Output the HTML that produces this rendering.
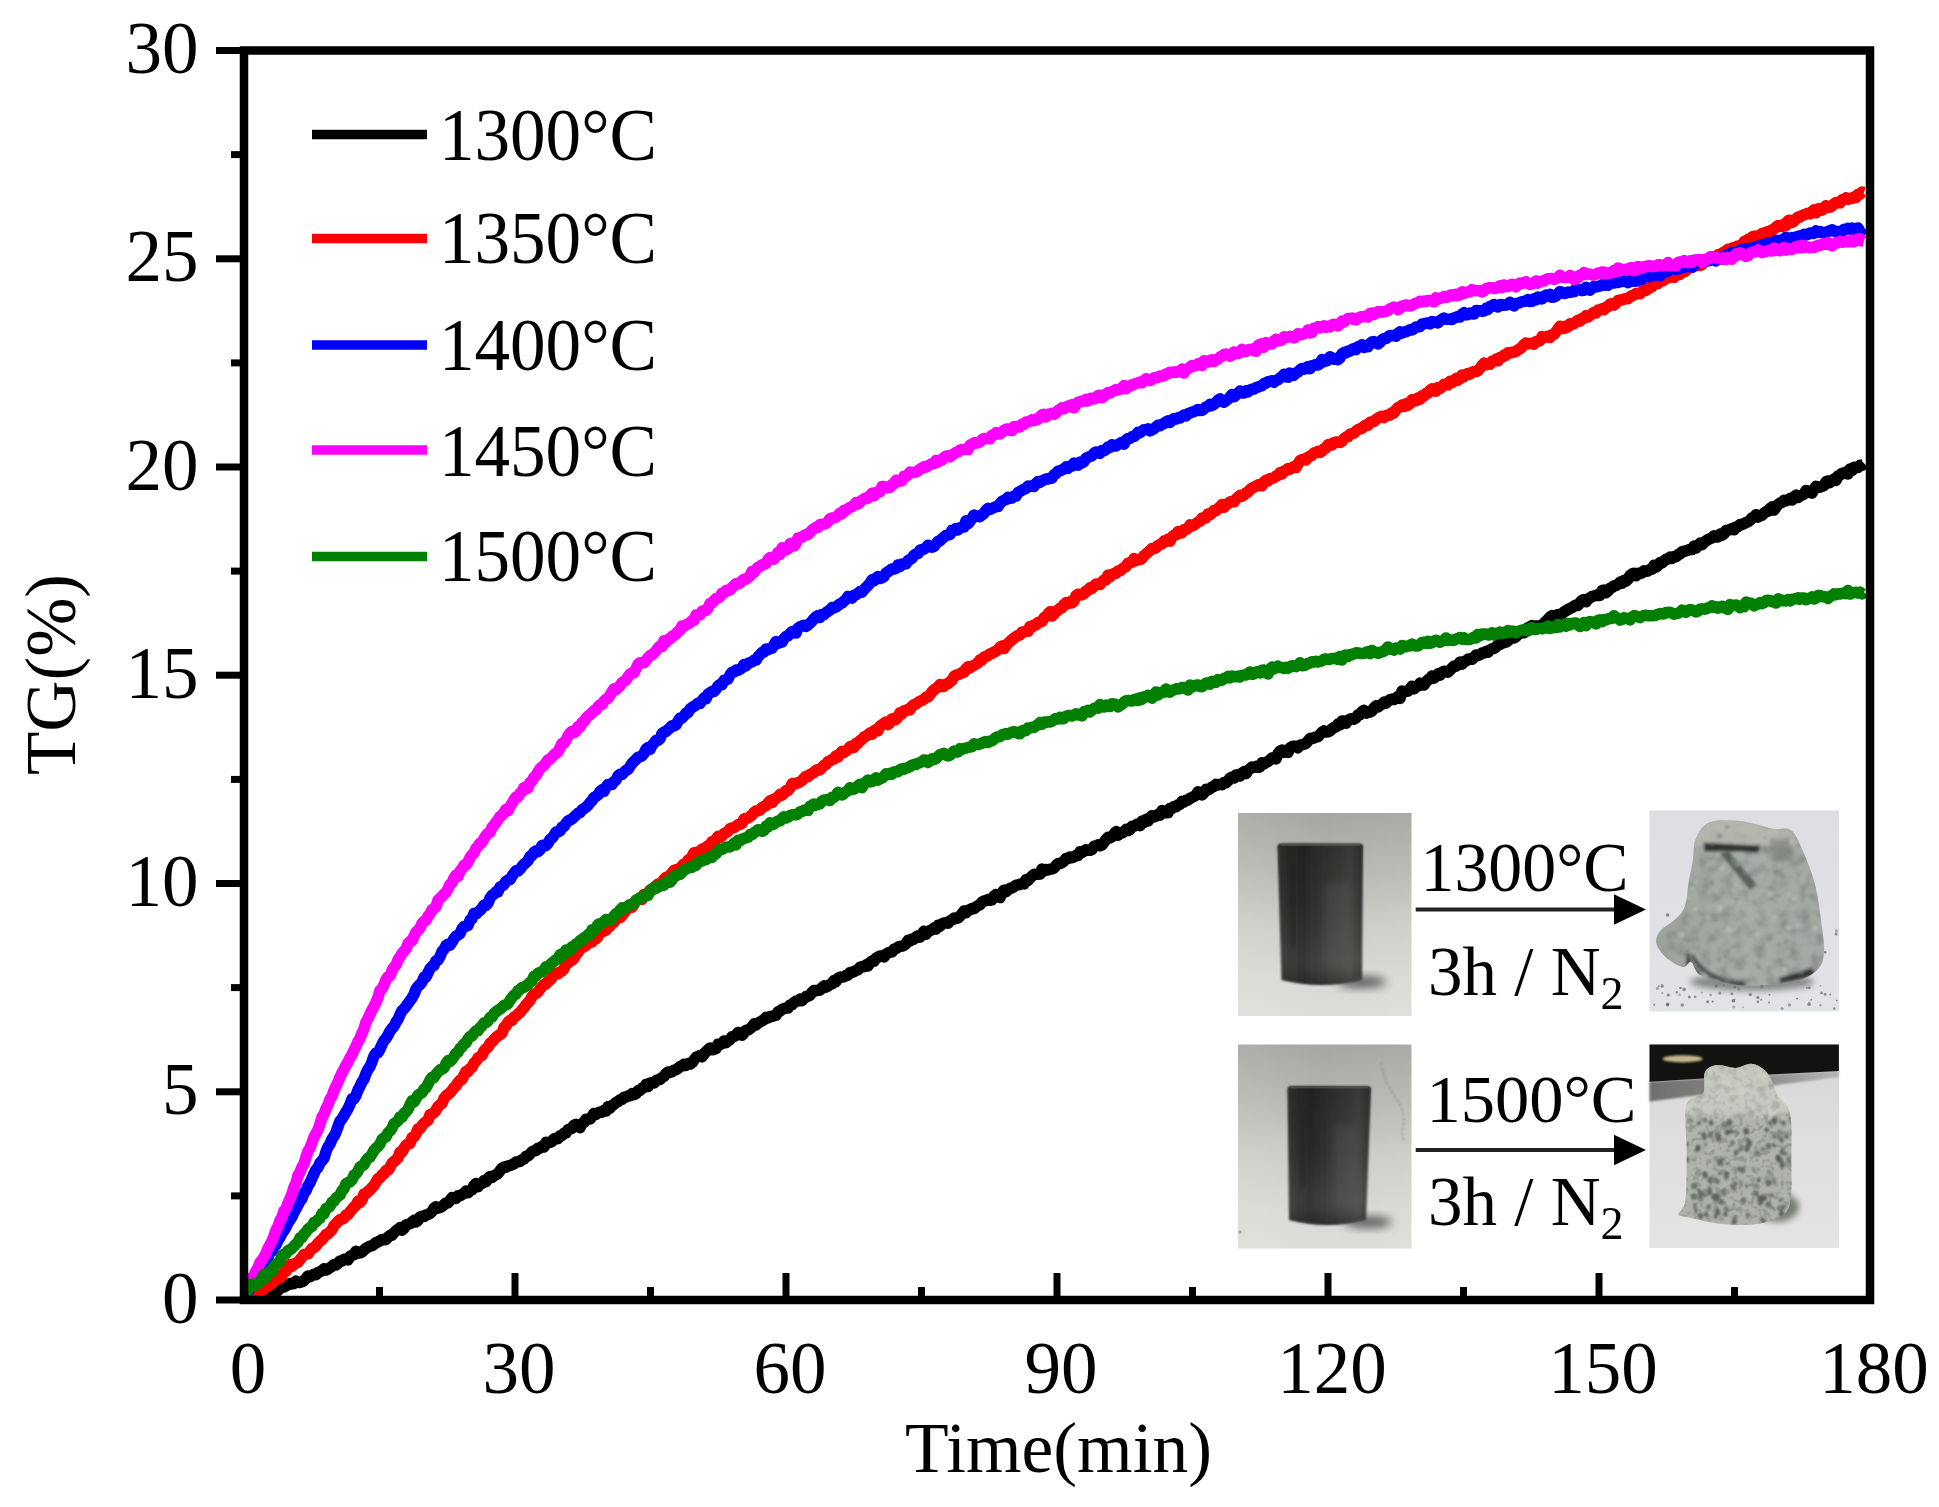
<!DOCTYPE html><html><head><meta charset="utf-8"><title>TG curves</title><style>html,body{margin:0;padding:0;background:#fff;}svg{display:block;}</style></head><body><svg width="1939" height="1507" viewBox="0 0 1939 1507">
<rect width="100%" height="100%" fill="#fff"/>
<defs>
<linearGradient id="bg1" x1="0" y1="0" x2="0" y2="1">
<stop offset="0" stop-color="#a6a5a1"/><stop offset="0.3" stop-color="#b9b8b4"/><stop offset="0.55" stop-color="#cdccc8"/><stop offset="0.8" stop-color="#d9d8d4"/><stop offset="1" stop-color="#dedcd8"/>
</linearGradient>
<linearGradient id="bg1h" x1="0" y1="0" x2="1" y2="0">
<stop offset="0" stop-color="#fff" stop-opacity="0.10"/><stop offset="0.5" stop-color="#fff" stop-opacity="0"/><stop offset="1" stop-color="#fff" stop-opacity="0.06"/>
</linearGradient>
<linearGradient id="cyl" x1="0" y1="0" x2="1" y2="0">
<stop offset="0" stop-color="#3b3b39"/><stop offset="0.12" stop-color="#2f2f2d"/><stop offset="0.3" stop-color="#2b2b29"/><stop offset="0.6" stop-color="#3a3b38"/><stop offset="0.85" stop-color="#474845"/><stop offset="1" stop-color="#363735"/>
</linearGradient>
<linearGradient id="cylv" x1="0" y1="0" x2="0" y2="1">
<stop offset="0" stop-color="#000" stop-opacity="0.22"/><stop offset="0.45" stop-color="#000" stop-opacity="0.05"/><stop offset="0.8" stop-color="#fff" stop-opacity="0.06"/><stop offset="1" stop-color="#000" stop-opacity="0.15"/>
</linearGradient>
<linearGradient id="bg3" x1="0" y1="0" x2="0" y2="1">
<stop offset="0" stop-color="#dcdee2"/><stop offset="1" stop-color="#e1e3e7"/>
</linearGradient>
<linearGradient id="bg4" x1="0" y1="0" x2="0" y2="1">
<stop offset="0" stop-color="#d8d6d6"/><stop offset="0.5" stop-color="#dfdddd"/><stop offset="1" stop-color="#e5e3e3"/>
</linearGradient>
<linearGradient id="band4" x1="0" y1="0" x2="1" y2="0">
<stop offset="0" stop-color="#6f6f6d"/><stop offset="0.6" stop-color="#8c8c8a"/><stop offset="1" stop-color="#b5b5b3"/>
</linearGradient>
<linearGradient id="m4" x1="0" y1="0" x2="0" y2="1">
<stop offset="0" stop-color="#c3c6bc"/><stop offset="0.3" stop-color="#c1c4bb"/><stop offset="0.36" stop-color="#b0b4ad"/><stop offset="1" stop-color="#aeb2ab"/>
</linearGradient>
<linearGradient id="m3" x1="0" y1="0" x2="1" y2="0">
<stop offset="0" stop-color="#9da39b"/><stop offset="0.5" stop-color="#a8ada7"/><stop offset="1" stop-color="#a3a8a3"/>
</linearGradient>
<filter id="mott3" x="0" y="0" width="1" height="1">
<feTurbulence type="fractalNoise" baseFrequency="0.09" numOctaves="3" seed="5" result="t"/>
<feColorMatrix in="t" type="matrix" values="0 0 0 0 0.25  0 0 0 0 0.27  0 0 0 0 0.26  -2.6 0 0 0 1.5" result="dk0"/>
<feGaussianBlur in="dk0" stdDeviation="0.9" result="dk"/>
<feComposite in="dk" in2="SourceGraphic" operator="in" result="d2"/>
<feComposite in="d2" in2="SourceGraphic" operator="over"/>
</filter>
<filter id="mott4" x="0" y="0" width="1" height="1">
<feTurbulence type="fractalNoise" baseFrequency="0.16" numOctaves="2" seed="11" result="t"/>
<feColorMatrix in="t" type="matrix" values="0 0 0 0 0.3  0 0 0 0 0.32  0 0 0 0 0.29  -5 0 0 0 2.6" result="dk0"/>
<feGaussianBlur in="dk0" stdDeviation="0.7" result="dk"/>
<feComposite in="dk" in2="SourceGraphic" operator="in" result="d2"/>
<feComposite in="d2" in2="SourceGraphic" operator="over"/>
</filter>
<filter id="b1" x="-20%" y="-20%" width="140%" height="140%"><feGaussianBlur stdDeviation="1"/></filter>
<filter id="b2" x="-20%" y="-20%" width="140%" height="140%"><feGaussianBlur stdDeviation="2"/></filter>
<filter id="b3" x="-30%" y="-30%" width="160%" height="160%"><feGaussianBlur stdDeviation="3"/></filter>
<filter id="b5" x="-50%" y="-50%" width="200%" height="200%"><feGaussianBlur stdDeviation="5"/></filter>
</defs>
<rect x="1238" y="813" width="173.5" height="203" fill="url(#bg1)"/>
<rect x="1238" y="813" width="173.5" height="203" fill="url(#bg1h)"/>
<ellipse cx="1362" cy="982" rx="24" ry="6" fill="#4a4a48" opacity="0.85" filter="url(#b5)"/>
<path d="M1277.5,846.5 Q1277.5,843.5 1281.5,843.5 L1359,843.5 Q1363,843.5 1363,846.5 L1362,980 Q1321.75,990 1281.5,980 Z" fill="url(#cyl)" filter="url(#b1)"/>
<path d="M1277.5,846.5 Q1277.5,843.5 1281.5,843.5 L1359,843.5 Q1363,843.5 1363,846.5 L1362,980 Q1321.75,990 1281.5,980 Z" fill="url(#cylv)"/>
<line x1="1280.5" y1="845.0" x2="1360" y2="845.0" stroke="#5a5650" stroke-width="2" opacity="0.7"/>
<rect x="1291.18" y="868.5" width="4" height="77.825" fill="#1e1e1d" opacity="0.5" filter="url(#b2)"/>
<rect x="1324.525" y="883.5" width="25.65" height="84.89999999999999" fill="#5a5c58" opacity="0.35" filter="url(#b5)"/>
<rect x="1238" y="1044.5" width="173.5" height="204" fill="url(#bg1)"/>
<rect x="1238" y="1044.5" width="173.5" height="204" fill="url(#bg1h)"/>
<ellipse cx="1368" cy="1222" rx="24" ry="6" fill="#4a4a48" opacity="0.85" filter="url(#b5)"/>
<path d="M1287.5,1089 Q1287.5,1086 1291.5,1086 L1367,1086 Q1371,1086 1371,1089 L1366,1220 Q1327.5,1230 1289,1220 Z" fill="url(#cyl)" filter="url(#b1)"/>
<path d="M1287.5,1089 Q1287.5,1086 1291.5,1086 L1367,1086 Q1371,1086 1371,1089 L1366,1220 Q1327.5,1230 1289,1220 Z" fill="url(#cylv)"/>
<line x1="1290.5" y1="1087.5" x2="1368" y2="1087.5" stroke="#5a5650" stroke-width="2" opacity="0.7"/>
<rect x="1300.86" y="1111" width="4" height="76.45" fill="#1e1e1d" opacity="0.5" filter="url(#b2)"/>
<rect x="1333.425" y="1126" width="25.05" height="83.39999999999999" fill="#5a5c58" opacity="0.35" filter="url(#b5)"/>
<path d="M1381,1063 L1383,1072 L1386,1081 L1391,1090 L1396,1098 L1400,1104 L1403,1112 L1404,1122 L1402,1132 L1404,1142" fill="none" stroke="#6a6a68" stroke-width="1.3" stroke-dasharray="3 2" opacity="0.55" filter="url(#b1)"/>
<circle cx="1240" cy="1232" r="1.5" fill="#666" opacity="0.5"/>
<rect x="1649.5" y="810.5" width="189.5" height="201" fill="url(#bg3)"/>
<clipPath id="cl3"><path d="M1695.8,839.2 C1698.6,832.9 1702.1,825.6 1709.4,822.6 C1716.7,819.6 1729.0,820.1 1739.6,821.1 C1750.2,822.1 1764.2,827.2 1772.8,828.7 C1781.3,830.2 1785.9,826.4 1790.9,830.2 C1795.9,834.0 1799.0,842.2 1803.0,851.3 C1807.0,860.3 1812.0,872.9 1815.0,884.5 C1818.0,896.1 1819.5,909.6 1821.0,920.7 C1822.5,931.8 1824.5,942.9 1824.0,950.9 C1823.5,958.9 1822.5,964.0 1818.0,969.0 C1813.5,974.0 1806.5,978.2 1797.0,981.0 C1787.5,983.8 1771.8,985.1 1760.7,985.6 C1749.6,986.1 1740.6,985.8 1730.5,984.0 C1720.4,982.2 1706.8,978.7 1700.3,975.0 C1693.8,971.3 1694.0,963.3 1691.3,962.0 C1688.6,960.7 1687.2,967.0 1684.0,967.0 C1680.8,967.0 1675.8,964.5 1672.0,962.0 C1668.2,959.5 1663.7,955.5 1661.0,952.0 C1658.3,948.5 1656.0,944.7 1656.0,941.0 C1656.0,937.3 1658.3,933.2 1661.0,930.0 C1663.7,926.8 1668.5,925.0 1672.0,922.0 C1675.5,919.0 1679.6,915.7 1682.0,912.0 C1684.4,908.3 1685.5,904.6 1686.5,900.0 C1687.5,895.4 1687.2,891.1 1688.3,884.5 C1689.3,877.9 1691.5,867.9 1692.8,860.4 C1694.0,852.9 1693.0,845.5 1695.8,839.2 Z"/></clipPath>
<ellipse cx="1752" cy="982" rx="62" ry="9" fill="#3c403e" opacity="0.55" filter="url(#b3)"/>
<path d="M1695.8,839.2 C1698.6,832.9 1702.1,825.6 1709.4,822.6 C1716.7,819.6 1729.0,820.1 1739.6,821.1 C1750.2,822.1 1764.2,827.2 1772.8,828.7 C1781.3,830.2 1785.9,826.4 1790.9,830.2 C1795.9,834.0 1799.0,842.2 1803.0,851.3 C1807.0,860.3 1812.0,872.9 1815.0,884.5 C1818.0,896.1 1819.5,909.6 1821.0,920.7 C1822.5,931.8 1824.5,942.9 1824.0,950.9 C1823.5,958.9 1822.5,964.0 1818.0,969.0 C1813.5,974.0 1806.5,978.2 1797.0,981.0 C1787.5,983.8 1771.8,985.1 1760.7,985.6 C1749.6,986.1 1740.6,985.8 1730.5,984.0 C1720.4,982.2 1706.8,978.7 1700.3,975.0 C1693.8,971.3 1694.0,963.3 1691.3,962.0 C1688.6,960.7 1687.2,967.0 1684.0,967.0 C1680.8,967.0 1675.8,964.5 1672.0,962.0 C1668.2,959.5 1663.7,955.5 1661.0,952.0 C1658.3,948.5 1656.0,944.7 1656.0,941.0 C1656.0,937.3 1658.3,933.2 1661.0,930.0 C1663.7,926.8 1668.5,925.0 1672.0,922.0 C1675.5,919.0 1679.6,915.7 1682.0,912.0 C1684.4,908.3 1685.5,904.6 1686.5,900.0 C1687.5,895.4 1687.2,891.1 1688.3,884.5 C1689.3,877.9 1691.5,867.9 1692.8,860.4 C1694.0,852.9 1693.0,845.5 1695.8,839.2 Z" fill="url(#m3)" filter="url(#mott3)"/>
<g clip-path="url(#cl3)"><g filter="url(#b1)">
<path d="M1693,840 Q1700,818 1730,818 Q1770,826 1798,834 L1796,846 Q1760,846 1730,842 Q1710,843 1693,846 Z" fill="#b9bdb1" opacity="0.7" filter="url(#b1)"/>
<path d="M1703,843 Q1730,845 1760,846 L1758,852 Q1730,850 1705,851 Z" fill="#1e201f" opacity="0.9" filter="url(#b1)"/>
<path d="M1720,853 L1728,851 L1756,884 L1750,890 Z" fill="#4a4f4c" opacity="0.8" filter="url(#b1)"/>
<path d="M1770,840 L1790,838 L1794,860 L1772,862 Z" fill="#6a706b" opacity="0.5" filter="url(#b2)"/>
<path d="M1688,950 Q1692,978 1720,985 Q1700,986 1690,975 Q1684,962 1688,950 Z" fill="#222" opacity="0.8" filter="url(#b1)"/>
<path d="M1690,955 Q1700,982 1745,987 L1745,982 Q1705,978 1694,955 Z" fill="#2a2c2b" opacity="0.7" filter="url(#b1)"/>
<path d="M1780,978 Q1800,972 1812,968 L1815,975 Q1800,980 1780,983 Z" fill="#1e1f1e" opacity="0.8" filter="url(#b1)"/>
<circle cx="1788.9" cy="893.7" r="2.6" fill="#bfc3bb" opacity="0.45"/>
<circle cx="1671.3" cy="983.9" r="2.7" fill="#c8ccc4" opacity="0.45"/>
<circle cx="1791.0" cy="841.5" r="1.9" fill="#c8ccc4" opacity="0.45"/>
<circle cx="1815.3" cy="928.2" r="2.8" fill="#bfc3bb" opacity="0.45"/>
<circle cx="1731.7" cy="858.2" r="1.3" fill="#7d837e" opacity="0.45"/>
<circle cx="1798.2" cy="926.1" r="2.7" fill="#bfc3bb" opacity="0.45"/>
<circle cx="1716.3" cy="983.1" r="2.8" fill="#bfc3bb" opacity="0.45"/>
<circle cx="1688.7" cy="898.4" r="1.3" fill="#c8ccc4" opacity="0.45"/>
<circle cx="1681.7" cy="934.8" r="3.1" fill="#c8ccc4" opacity="0.45"/>
<circle cx="1711.4" cy="882.2" r="2.1" fill="#6c726d" opacity="0.45"/>
<circle cx="1687.8" cy="841.8" r="1.7" fill="#6c726d" opacity="0.45"/>
<circle cx="1770.9" cy="893.4" r="2.9" fill="#bfc3bb" opacity="0.45"/>
<circle cx="1776.1" cy="872.5" r="2.8" fill="#6c726d" opacity="0.45"/>
<circle cx="1722.0" cy="868.4" r="2.6" fill="#c8ccc4" opacity="0.45"/>
<circle cx="1679.2" cy="853.6" r="2.8" fill="#c8ccc4" opacity="0.45"/>
<circle cx="1770.0" cy="938.5" r="2.8" fill="#7d837e" opacity="0.45"/>
<circle cx="1734.4" cy="915.5" r="1.4" fill="#7d837e" opacity="0.45"/>
<circle cx="1770.6" cy="899.1" r="2.3" fill="#7d837e" opacity="0.45"/>
<circle cx="1787.3" cy="926.6" r="2.3" fill="#bfc3bb" opacity="0.45"/>
<circle cx="1707.6" cy="825.2" r="2.1" fill="#bfc3bb" opacity="0.45"/>
<circle cx="1692.1" cy="888.6" r="1.7" fill="#c8ccc4" opacity="0.45"/>
<circle cx="1665.1" cy="867.3" r="1.8" fill="#c8ccc4" opacity="0.45"/>
<circle cx="1769.5" cy="913.6" r="2.5" fill="#bfc3bb" opacity="0.45"/>
<circle cx="1725.3" cy="956.8" r="1.5" fill="#6c726d" opacity="0.45"/>
<circle cx="1658.9" cy="835.1" r="2.1" fill="#6c726d" opacity="0.45"/>
<circle cx="1682.9" cy="904.2" r="1.5" fill="#6c726d" opacity="0.45"/>
<circle cx="1775.5" cy="895.0" r="1.8" fill="#7d837e" opacity="0.45"/>
<circle cx="1764.0" cy="880.8" r="1.4" fill="#8a908a" opacity="0.45"/>
<circle cx="1675.4" cy="981.6" r="2.6" fill="#8a908a" opacity="0.45"/>
<circle cx="1701.0" cy="982.8" r="2.8" fill="#c8ccc4" opacity="0.45"/>
<circle cx="1779.0" cy="895.5" r="1.4" fill="#6c726d" opacity="0.45"/>
<circle cx="1811.2" cy="896.6" r="1.6" fill="#8a908a" opacity="0.45"/>
<circle cx="1707.9" cy="917.3" r="2.9" fill="#bfc3bb" opacity="0.45"/>
<circle cx="1786.2" cy="940.9" r="2.1" fill="#7d837e" opacity="0.45"/>
<circle cx="1763.5" cy="918.1" r="1.4" fill="#7d837e" opacity="0.45"/>
<circle cx="1726.9" cy="827.0" r="2.2" fill="#6c726d" opacity="0.45"/>
<circle cx="1712.1" cy="844.3" r="2.4" fill="#6c726d" opacity="0.45"/>
<circle cx="1684.5" cy="975.4" r="2.4" fill="#7d837e" opacity="0.45"/>
<circle cx="1715.0" cy="919.3" r="3.1" fill="#8a908a" opacity="0.45"/>
<circle cx="1738.4" cy="951.5" r="1.4" fill="#7d837e" opacity="0.45"/>
<circle cx="1739.2" cy="902.4" r="2.3" fill="#bfc3bb" opacity="0.45"/>
<circle cx="1736.9" cy="864.9" r="1.9" fill="#c8ccc4" opacity="0.45"/>
<circle cx="1745.1" cy="893.7" r="2.9" fill="#8a908a" opacity="0.45"/>
<circle cx="1810.0" cy="843.6" r="2.3" fill="#7d837e" opacity="0.45"/>
<circle cx="1673.8" cy="932.9" r="2.5" fill="#7d837e" opacity="0.45"/>
<circle cx="1780.8" cy="949.1" r="1.4" fill="#8a908a" opacity="0.45"/>
<circle cx="1813.5" cy="858.7" r="2.3" fill="#8a908a" opacity="0.45"/>
<circle cx="1719.2" cy="959.4" r="2.8" fill="#7d837e" opacity="0.45"/>
<circle cx="1709.9" cy="980.1" r="2.2" fill="#6c726d" opacity="0.45"/>
<circle cx="1699.3" cy="977.3" r="1.5" fill="#8a908a" opacity="0.45"/>
<circle cx="1662.8" cy="893.1" r="3.0" fill="#c8ccc4" opacity="0.45"/>
<circle cx="1784.5" cy="969.7" r="3.0" fill="#c8ccc4" opacity="0.45"/>
<circle cx="1744.8" cy="873.1" r="2.5" fill="#7d837e" opacity="0.45"/>
<circle cx="1719.6" cy="835.9" r="2.7" fill="#6c726d" opacity="0.45"/>
<circle cx="1700.4" cy="977.4" r="1.4" fill="#c8ccc4" opacity="0.45"/>
<circle cx="1798.8" cy="845.8" r="1.6" fill="#8a908a" opacity="0.45"/>
<circle cx="1758.7" cy="966.9" r="1.8" fill="#7d837e" opacity="0.45"/>
<circle cx="1789.5" cy="983.3" r="2.2" fill="#7d837e" opacity="0.45"/>
<circle cx="1679.9" cy="822.3" r="1.5" fill="#7d837e" opacity="0.45"/>
<circle cx="1772.2" cy="840.5" r="2.2" fill="#8a908a" opacity="0.45"/>
<circle cx="1775.1" cy="917.6" r="2.8" fill="#bfc3bb" opacity="0.45"/>
<circle cx="1778.8" cy="944.1" r="1.5" fill="#7d837e" opacity="0.45"/>
<circle cx="1676.4" cy="975.8" r="1.8" fill="#7d837e" opacity="0.45"/>
<circle cx="1739.5" cy="931.4" r="3.1" fill="#8a908a" opacity="0.45"/>
<circle cx="1704.6" cy="975.4" r="2.3" fill="#bfc3bb" opacity="0.45"/>
<circle cx="1764.7" cy="837.8" r="1.5" fill="#7d837e" opacity="0.45"/>
<circle cx="1727.5" cy="982.3" r="3.1" fill="#7d837e" opacity="0.45"/>
<circle cx="1794.2" cy="898.5" r="2.8" fill="#bfc3bb" opacity="0.45"/>
<circle cx="1658.1" cy="838.3" r="2.8" fill="#8a908a" opacity="0.45"/>
<circle cx="1695.2" cy="909.2" r="2.4" fill="#c8ccc4" opacity="0.45"/>
<circle cx="1805.1" cy="921.3" r="1.9" fill="#8a908a" opacity="0.45"/>
<circle cx="1728.7" cy="929.5" r="2.9" fill="#bfc3bb" opacity="0.45"/>
<circle cx="1733.5" cy="861.6" r="2.7" fill="#8a908a" opacity="0.45"/>
<circle cx="1796.3" cy="837.7" r="1.3" fill="#8a908a" opacity="0.45"/>
<circle cx="1757.8" cy="844.6" r="1.8" fill="#7d837e" opacity="0.45"/>
<circle cx="1679.9" cy="974.7" r="1.5" fill="#c8ccc4" opacity="0.45"/>
<circle cx="1704.3" cy="845.8" r="1.2" fill="#bfc3bb" opacity="0.45"/>
<circle cx="1664.6" cy="849.3" r="1.3" fill="#7d837e" opacity="0.45"/>
<circle cx="1757.3" cy="934.4" r="1.8" fill="#c8ccc4" opacity="0.45"/>
<circle cx="1742.3" cy="967.0" r="2.9" fill="#8a908a" opacity="0.45"/>
<circle cx="1662.5" cy="850.5" r="1.7" fill="#c8ccc4" opacity="0.45"/>
<circle cx="1753.8" cy="889.9" r="1.3" fill="#8a908a" opacity="0.45"/>
<circle cx="1719.6" cy="908.0" r="2.9" fill="#c8ccc4" opacity="0.45"/>
<circle cx="1664.0" cy="975.4" r="1.4" fill="#7d837e" opacity="0.45"/>
<circle cx="1800.9" cy="971.6" r="2.8" fill="#8a908a" opacity="0.45"/>
<circle cx="1789.8" cy="927.9" r="2.8" fill="#c8ccc4" opacity="0.45"/>
<circle cx="1678.3" cy="910.1" r="2.9" fill="#8a908a" opacity="0.45"/>
<circle cx="1735.1" cy="884.7" r="2.5" fill="#bfc3bb" opacity="0.45"/>
<circle cx="1701.1" cy="843.5" r="2.0" fill="#bfc3bb" opacity="0.45"/>
<circle cx="1695.2" cy="881.7" r="1.9" fill="#bfc3bb" opacity="0.45"/>
</g></g>
<circle cx="1712.6" cy="1001.5" r="1.1" fill="#5d625e" opacity="0.78"/>
<circle cx="1821.5" cy="992.9" r="1.3" fill="#5d625e" opacity="0.74"/>
<circle cx="1769.1" cy="1002.6" r="1.0" fill="#5d625e" opacity="0.68"/>
<circle cx="1811.2" cy="999.7" r="0.9" fill="#5d625e" opacity="0.69"/>
<circle cx="1667.6" cy="915.0" r="1.8" fill="#5d625e" opacity="0.72"/>
<circle cx="1761.8" cy="986.7" r="1.7" fill="#5d625e" opacity="0.50"/>
<circle cx="1761.2" cy="999.8" r="1.0" fill="#5d625e" opacity="0.63"/>
<circle cx="1757.9" cy="997.5" r="1.6" fill="#5d625e" opacity="0.72"/>
<circle cx="1743.0" cy="1007.3" r="0.9" fill="#5d625e" opacity="0.45"/>
<circle cx="1668.2" cy="995.0" r="1.6" fill="#5d625e" opacity="0.67"/>
<circle cx="1702.0" cy="992.5" r="1.0" fill="#5d625e" opacity="0.46"/>
<circle cx="1825.2" cy="994.2" r="1.5" fill="#5d625e" opacity="0.62"/>
<circle cx="1825.2" cy="952.3" r="1.2" fill="#5d625e" opacity="0.79"/>
<circle cx="1809.3" cy="987.9" r="1.4" fill="#5d625e" opacity="0.67"/>
<circle cx="1654.3" cy="1004.8" r="1.1" fill="#5d625e" opacity="0.58"/>
<circle cx="1733.8" cy="1007.0" r="1.6" fill="#5d625e" opacity="0.44"/>
<circle cx="1836.5" cy="930.9" r="1.6" fill="#5d625e" opacity="0.44"/>
<circle cx="1836.8" cy="1000.6" r="0.9" fill="#5d625e" opacity="0.76"/>
<circle cx="1657.4" cy="988.4" r="1.6" fill="#5d625e" opacity="0.48"/>
<circle cx="1820.5" cy="985.9" r="0.8" fill="#5d625e" opacity="0.42"/>
<circle cx="1809.1" cy="1004.2" r="1.7" fill="#5d625e" opacity="0.71"/>
<circle cx="1689.3" cy="997.1" r="1.5" fill="#5d625e" opacity="0.65"/>
<circle cx="1809.5" cy="1002.6" r="1.0" fill="#5d625e" opacity="0.51"/>
<circle cx="1662.1" cy="986.0" r="1.7" fill="#5d625e" opacity="0.68"/>
<circle cx="1684.0" cy="989.4" r="1.8" fill="#5d625e" opacity="0.58"/>
<circle cx="1797.1" cy="998.7" r="0.9" fill="#5d625e" opacity="0.78"/>
<circle cx="1707.7" cy="1001.8" r="1.4" fill="#5d625e" opacity="0.78"/>
<circle cx="1679.5" cy="994.7" r="1.3" fill="#5d625e" opacity="0.45"/>
<circle cx="1676.8" cy="992.3" r="1.2" fill="#5d625e" opacity="0.64"/>
<circle cx="1769.4" cy="994.8" r="1.0" fill="#5d625e" opacity="0.64"/>
<circle cx="1710.7" cy="995.0" r="1.3" fill="#5d625e" opacity="0.49"/>
<circle cx="1757.9" cy="1001.8" r="1.4" fill="#5d625e" opacity="0.66"/>
<circle cx="1731.8" cy="993.7" r="1.3" fill="#5d625e" opacity="0.69"/>
<circle cx="1806.9" cy="987.8" r="0.9" fill="#5d625e" opacity="0.74"/>
<circle cx="1662.3" cy="993.0" r="1.0" fill="#5d625e" opacity="0.53"/>
<circle cx="1789.4" cy="1004.9" r="1.7" fill="#5d625e" opacity="0.55"/>
<circle cx="1680.4" cy="987.9" r="1.2" fill="#5d625e" opacity="0.78"/>
<circle cx="1836.2" cy="933.9" r="1.5" fill="#5d625e" opacity="0.68"/>
<circle cx="1723.8" cy="985.3" r="1.0" fill="#5d625e" opacity="0.61"/>
<circle cx="1682.3" cy="1005.1" r="1.8" fill="#5d625e" opacity="0.62"/>
<circle cx="1734.9" cy="986.9" r="1.6" fill="#5d625e" opacity="0.57"/>
<circle cx="1738.8" cy="989.3" r="1.7" fill="#5d625e" opacity="0.42"/>
<circle cx="1695.1" cy="996.8" r="1.4" fill="#5d625e" opacity="0.60"/>
<circle cx="1667.6" cy="1005.2" r="1.4" fill="#5d625e" opacity="0.66"/>
<circle cx="1719.8" cy="993.1" r="1.6" fill="#5d625e" opacity="0.59"/>
<circle cx="1820.3" cy="1005.4" r="1.1" fill="#5d625e" opacity="0.60"/>
<circle cx="1750.3" cy="994.6" r="1.7" fill="#5d625e" opacity="0.65"/>
<circle cx="1684.8" cy="989.6" r="0.8" fill="#5d625e" opacity="0.77"/>
<circle cx="1734.9" cy="999.4" r="0.8" fill="#5d625e" opacity="0.51"/>
<circle cx="1782.1" cy="1008.6" r="1.4" fill="#5d625e" opacity="0.59"/>
<circle cx="1830.2" cy="994.5" r="0.9" fill="#5d625e" opacity="0.69"/>
<circle cx="1733.4" cy="1000.7" r="1.8" fill="#5d625e" opacity="0.79"/>
<circle cx="1716.1" cy="986.0" r="1.6" fill="#5d625e" opacity="0.60"/>
<circle cx="1834.3" cy="1008.5" r="1.2" fill="#5d625e" opacity="0.72"/>
<circle cx="1667.7" cy="1004.2" r="1.7" fill="#5d625e" opacity="0.73"/>
<circle cx="1658.8" cy="986.2" r="0.9" fill="#5d625e" opacity="0.67"/>
<rect x="1649.5" y="1044.5" width="189.5" height="203.5" fill="url(#bg4)"/>
<path d="M1649.5,1081.8 L1760,1075 L1838.9,1071 L1838.9,1077 L1649.5,1101.5 Z" fill="url(#band4)" filter="url(#b1)"/>
<path d="M1649.5,1044.5 H1838.9 V1071 L1760,1075 L1649.5,1081.8 Z" fill="#121210"/>
<ellipse cx="1682.6" cy="1058.8" rx="20" ry="3.6" fill="#c4b68c" filter="url(#b1)"/>
<ellipse cx="1777" cy="1207" rx="22" ry="15" fill="#6c6f6b" opacity="0.9" filter="url(#b3)"/>
<clipPath id="cl4"><path d="M1705.0,1072.0 C1707.3,1067.3 1712.4,1065.7 1717.5,1065.0 C1722.6,1064.3 1730.0,1068.1 1735.6,1067.9 C1741.2,1067.7 1746.3,1063.5 1751.0,1063.7 C1755.7,1063.9 1760.0,1066.5 1763.5,1069.3 C1767.0,1072.1 1769.5,1076.0 1771.8,1080.4 C1774.1,1084.8 1774.8,1091.3 1777.4,1095.7 C1780.0,1100.1 1784.9,1102.2 1787.2,1106.9 C1789.5,1111.6 1790.6,1114.8 1791.3,1123.6 C1792.0,1132.4 1791.3,1148.4 1791.3,1160.0 C1791.3,1171.6 1792.4,1184.3 1791.3,1193.3 C1790.2,1202.3 1790.2,1209.1 1784.4,1214.2 C1778.6,1219.3 1767.0,1222.4 1756.5,1224.0 C1746.0,1225.6 1733.3,1225.2 1721.7,1224.0 C1710.1,1222.8 1694.0,1218.6 1686.8,1217.0 C1679.6,1215.4 1678.6,1217.0 1678.4,1214.2 C1678.2,1211.4 1684.0,1210.8 1685.4,1200.3 C1686.8,1189.8 1686.8,1166.1 1686.8,1151.5 C1686.8,1136.9 1684.7,1121.3 1685.4,1112.5 C1686.1,1103.7 1688.0,1101.8 1691.0,1098.5 C1694.0,1095.2 1701.2,1097.4 1703.5,1093.0 C1705.8,1088.6 1702.7,1076.7 1705.0,1072.0 Z"/></clipPath>
<path d="M1705.0,1072.0 C1707.3,1067.3 1712.4,1065.7 1717.5,1065.0 C1722.6,1064.3 1730.0,1068.1 1735.6,1067.9 C1741.2,1067.7 1746.3,1063.5 1751.0,1063.7 C1755.7,1063.9 1760.0,1066.5 1763.5,1069.3 C1767.0,1072.1 1769.5,1076.0 1771.8,1080.4 C1774.1,1084.8 1774.8,1091.3 1777.4,1095.7 C1780.0,1100.1 1784.9,1102.2 1787.2,1106.9 C1789.5,1111.6 1790.6,1114.8 1791.3,1123.6 C1792.0,1132.4 1791.3,1148.4 1791.3,1160.0 C1791.3,1171.6 1792.4,1184.3 1791.3,1193.3 C1790.2,1202.3 1790.2,1209.1 1784.4,1214.2 C1778.6,1219.3 1767.0,1222.4 1756.5,1224.0 C1746.0,1225.6 1733.3,1225.2 1721.7,1224.0 C1710.1,1222.8 1694.0,1218.6 1686.8,1217.0 C1679.6,1215.4 1678.6,1217.0 1678.4,1214.2 C1678.2,1211.4 1684.0,1210.8 1685.4,1200.3 C1686.8,1189.8 1686.8,1166.1 1686.8,1151.5 C1686.8,1136.9 1684.7,1121.3 1685.4,1112.5 C1686.1,1103.7 1688.0,1101.8 1691.0,1098.5 C1694.0,1095.2 1701.2,1097.4 1703.5,1093.0 C1705.8,1088.6 1702.7,1076.7 1705.0,1072.0 Z" fill="url(#m4)" filter="url(#mott4)"/>
<g clip-path="url(#cl4)"><g filter="url(#b1)">
<path d="M1675,1060 H1800 V1112 Q1740,1120 1675,1112 Z" fill="#c8cbc2" opacity="0.65" filter="url(#b2)"/>
<ellipse cx="1760.0" cy="1198.5" rx="2.8" ry="3.4" fill="#50554e" opacity="0.75"/>
<ellipse cx="1769.5" cy="1123.1" rx="1.9" ry="2.3" fill="#50554e" opacity="0.70"/>
<ellipse cx="1775.7" cy="1118.5" rx="2.3" ry="2.8" fill="#50554e" opacity="0.72"/>
<ellipse cx="1686.2" cy="1159.7" rx="2.9" ry="3.4" fill="#50554e" opacity="0.72"/>
<ellipse cx="1708.7" cy="1206.7" rx="2.1" ry="2.5" fill="#50554e" opacity="0.79"/>
<ellipse cx="1715.3" cy="1179.4" rx="2.2" ry="2.6" fill="#50554e" opacity="0.56"/>
<ellipse cx="1778.7" cy="1137.5" rx="1.7" ry="2.1" fill="#50554e" opacity="0.59"/>
<ellipse cx="1760.5" cy="1202.0" rx="3.0" ry="3.6" fill="#50554e" opacity="0.57"/>
<ellipse cx="1727.1" cy="1132.2" rx="2.4" ry="2.9" fill="#50554e" opacity="0.85"/>
<ellipse cx="1758.7" cy="1179.9" rx="2.1" ry="2.6" fill="#50554e" opacity="0.82"/>
<ellipse cx="1736.7" cy="1132.0" rx="2.1" ry="2.5" fill="#50554e" opacity="0.48"/>
<ellipse cx="1704.8" cy="1119.8" rx="2.2" ry="2.7" fill="#50554e" opacity="0.70"/>
<ellipse cx="1720.1" cy="1161.7" rx="2.9" ry="3.5" fill="#50554e" opacity="0.75"/>
<ellipse cx="1741.4" cy="1147.6" rx="2.9" ry="3.4" fill="#50554e" opacity="0.54"/>
<ellipse cx="1718.1" cy="1212.5" rx="2.3" ry="2.8" fill="#50554e" opacity="0.75"/>
<ellipse cx="1746.8" cy="1186.0" rx="2.0" ry="2.4" fill="#50554e" opacity="0.55"/>
<ellipse cx="1717.8" cy="1134.2" rx="2.8" ry="3.4" fill="#50554e" opacity="0.56"/>
<ellipse cx="1743.6" cy="1200.4" rx="2.7" ry="3.2" fill="#50554e" opacity="0.63"/>
<ellipse cx="1734.4" cy="1221.4" rx="2.5" ry="3.1" fill="#50554e" opacity="0.78"/>
<ellipse cx="1780.5" cy="1199.9" rx="1.9" ry="2.2" fill="#50554e" opacity="0.67"/>
<ellipse cx="1694.0" cy="1185.9" rx="2.9" ry="3.5" fill="#50554e" opacity="0.66"/>
<ellipse cx="1729.8" cy="1121.7" rx="2.9" ry="3.5" fill="#50554e" opacity="0.49"/>
<ellipse cx="1687.4" cy="1143.6" rx="1.7" ry="2.0" fill="#50554e" opacity="0.63"/>
<ellipse cx="1738.7" cy="1150.5" rx="1.7" ry="2.0" fill="#50554e" opacity="0.49"/>
<ellipse cx="1724.5" cy="1124.3" rx="2.6" ry="3.1" fill="#50554e" opacity="0.53"/>
<ellipse cx="1715.6" cy="1159.0" rx="2.2" ry="2.6" fill="#50554e" opacity="0.45"/>
<ellipse cx="1695.1" cy="1207.7" rx="1.6" ry="1.9" fill="#50554e" opacity="0.65"/>
<ellipse cx="1735.9" cy="1152.6" rx="2.2" ry="2.6" fill="#50554e" opacity="0.76"/>
<ellipse cx="1773.9" cy="1145.1" rx="2.1" ry="2.5" fill="#50554e" opacity="0.55"/>
<ellipse cx="1734.8" cy="1189.1" rx="1.9" ry="2.3" fill="#50554e" opacity="0.58"/>
<ellipse cx="1783.5" cy="1123.1" rx="2.2" ry="2.7" fill="#50554e" opacity="0.73"/>
<ellipse cx="1699.2" cy="1122.9" rx="1.8" ry="2.2" fill="#50554e" opacity="0.82"/>
<ellipse cx="1684.0" cy="1137.6" rx="1.6" ry="2.0" fill="#50554e" opacity="0.49"/>
<ellipse cx="1750.0" cy="1143.1" rx="2.4" ry="2.9" fill="#50554e" opacity="0.69"/>
<ellipse cx="1774.7" cy="1118.5" rx="2.8" ry="3.4" fill="#50554e" opacity="0.70"/>
<ellipse cx="1700.6" cy="1198.4" rx="2.8" ry="3.4" fill="#50554e" opacity="0.55"/>
<ellipse cx="1782.2" cy="1165.3" rx="2.4" ry="2.9" fill="#50554e" opacity="0.84"/>
<ellipse cx="1722.0" cy="1202.6" rx="2.0" ry="2.5" fill="#50554e" opacity="0.77"/>
<ellipse cx="1747.9" cy="1140.5" rx="2.2" ry="2.6" fill="#50554e" opacity="0.58"/>
<ellipse cx="1691.4" cy="1121.1" rx="2.1" ry="2.5" fill="#50554e" opacity="0.46"/>
<ellipse cx="1700.9" cy="1193.4" rx="2.6" ry="3.1" fill="#50554e" opacity="0.75"/>
<ellipse cx="1717.3" cy="1210.6" rx="2.4" ry="2.9" fill="#50554e" opacity="0.50"/>
<ellipse cx="1698.5" cy="1190.1" rx="1.8" ry="2.2" fill="#50554e" opacity="0.65"/>
<ellipse cx="1790.1" cy="1118.4" rx="1.6" ry="1.9" fill="#50554e" opacity="0.85"/>
<ellipse cx="1746.1" cy="1131.2" rx="2.9" ry="3.4" fill="#50554e" opacity="0.80"/>
<ellipse cx="1740.9" cy="1182.7" rx="2.0" ry="2.4" fill="#50554e" opacity="0.47"/>
<ellipse cx="1747.2" cy="1148.7" rx="2.5" ry="3.0" fill="#50554e" opacity="0.78"/>
<ellipse cx="1685.0" cy="1180.0" rx="1.9" ry="2.3" fill="#50554e" opacity="0.80"/>
<ellipse cx="1710.4" cy="1181.5" rx="2.4" ry="2.8" fill="#50554e" opacity="0.61"/>
<ellipse cx="1756.2" cy="1193.5" rx="2.4" ry="2.9" fill="#50554e" opacity="0.75"/>
<ellipse cx="1789.2" cy="1161.6" rx="2.3" ry="2.8" fill="#50554e" opacity="0.45"/>
<ellipse cx="1769.0" cy="1172.1" rx="2.2" ry="2.6" fill="#50554e" opacity="0.49"/>
<ellipse cx="1779.1" cy="1159.1" rx="2.6" ry="3.1" fill="#50554e" opacity="0.51"/>
<ellipse cx="1786.8" cy="1136.6" rx="1.9" ry="2.3" fill="#50554e" opacity="0.79"/>
<ellipse cx="1781.6" cy="1140.1" rx="2.3" ry="2.7" fill="#50554e" opacity="0.74"/>
<ellipse cx="1777.9" cy="1157.4" rx="2.3" ry="2.8" fill="#50554e" opacity="0.75"/>
<ellipse cx="1762.0" cy="1199.4" rx="2.4" ry="2.9" fill="#50554e" opacity="0.49"/>
<ellipse cx="1780.6" cy="1208.0" rx="2.7" ry="3.3" fill="#50554e" opacity="0.49"/>
<ellipse cx="1705.1" cy="1195.3" rx="1.6" ry="2.0" fill="#50554e" opacity="0.84"/>
<ellipse cx="1723.7" cy="1192.8" rx="2.8" ry="3.4" fill="#50554e" opacity="0.61"/>
<ellipse cx="1717.5" cy="1181.3" rx="2.4" ry="2.9" fill="#50554e" opacity="0.61"/>
<ellipse cx="1748.0" cy="1215.3" rx="2.3" ry="2.7" fill="#50554e" opacity="0.53"/>
<ellipse cx="1723.7" cy="1159.0" rx="1.8" ry="2.1" fill="#50554e" opacity="0.52"/>
<ellipse cx="1756.9" cy="1153.3" rx="2.9" ry="3.5" fill="#50554e" opacity="0.55"/>
<ellipse cx="1693.7" cy="1196.4" rx="2.8" ry="3.4" fill="#50554e" opacity="0.56"/>
<ellipse cx="1704.8" cy="1137.3" rx="2.3" ry="2.8" fill="#50554e" opacity="0.64"/>
<ellipse cx="1711.0" cy="1122.7" rx="2.3" ry="2.7" fill="#50554e" opacity="0.83"/>
<ellipse cx="1753.5" cy="1169.5" rx="1.8" ry="2.1" fill="#50554e" opacity="0.55"/>
<ellipse cx="1714.8" cy="1197.5" rx="2.8" ry="3.4" fill="#50554e" opacity="0.81"/>
<ellipse cx="1789.3" cy="1220.2" rx="2.9" ry="3.5" fill="#50554e" opacity="0.48"/>
<ellipse cx="1697.9" cy="1149.7" rx="2.4" ry="2.8" fill="#50554e" opacity="0.49"/>
<ellipse cx="1774.3" cy="1182.1" rx="2.4" ry="2.8" fill="#50554e" opacity="0.52"/>
<ellipse cx="1710.4" cy="1134.7" rx="2.8" ry="3.4" fill="#50554e" opacity="0.68"/>
<ellipse cx="1762.4" cy="1148.8" rx="2.1" ry="2.5" fill="#50554e" opacity="0.61"/>
<ellipse cx="1765.1" cy="1198.3" rx="1.9" ry="2.3" fill="#50554e" opacity="0.83"/>
<ellipse cx="1696.0" cy="1211.2" rx="1.7" ry="2.1" fill="#50554e" opacity="0.56"/>
<ellipse cx="1774.4" cy="1136.7" rx="2.2" ry="2.6" fill="#50554e" opacity="0.63"/>
<ellipse cx="1709.5" cy="1191.9" rx="2.8" ry="3.4" fill="#50554e" opacity="0.80"/>
<ellipse cx="1719.6" cy="1173.2" rx="1.9" ry="2.3" fill="#50554e" opacity="0.55"/>
<ellipse cx="1700.4" cy="1215.8" rx="2.8" ry="3.4" fill="#50554e" opacity="0.76"/>
<ellipse cx="1738.9" cy="1169.0" rx="2.3" ry="2.8" fill="#50554e" opacity="0.66"/>
<ellipse cx="1729.9" cy="1131.7" rx="1.8" ry="2.1" fill="#50554e" opacity="0.83"/>
<ellipse cx="1735.1" cy="1217.1" rx="1.8" ry="2.2" fill="#50554e" opacity="0.67"/>
<ellipse cx="1705.4" cy="1144.3" rx="1.6" ry="2.0" fill="#50554e" opacity="0.50"/>
<ellipse cx="1782.0" cy="1151.4" rx="2.5" ry="2.9" fill="#50554e" opacity="0.64"/>
<ellipse cx="1726.2" cy="1173.3" rx="1.9" ry="2.2" fill="#50554e" opacity="0.85"/>
<ellipse cx="1771.4" cy="1195.1" rx="2.3" ry="2.7" fill="#50554e" opacity="0.51"/>
<ellipse cx="1782.4" cy="1153.5" rx="1.7" ry="2.0" fill="#50554e" opacity="0.59"/>
<ellipse cx="1768.8" cy="1182.8" rx="2.7" ry="3.2" fill="#50554e" opacity="0.77"/>
<ellipse cx="1705.9" cy="1214.1" rx="2.2" ry="2.7" fill="#50554e" opacity="0.71"/>
<ellipse cx="1683.2" cy="1221.3" rx="2.0" ry="2.4" fill="#50554e" opacity="0.47"/>
<ellipse cx="1732.5" cy="1131.4" rx="1.8" ry="2.2" fill="#50554e" opacity="0.70"/>
<ellipse cx="1725.4" cy="1213.9" rx="2.0" ry="2.5" fill="#50554e" opacity="0.74"/>
<ellipse cx="1732.8" cy="1186.6" rx="2.4" ry="2.9" fill="#50554e" opacity="0.64"/>
<ellipse cx="1785.6" cy="1153.6" rx="1.8" ry="2.2" fill="#50554e" opacity="0.72"/>
<ellipse cx="1774.4" cy="1122.2" rx="2.2" ry="2.7" fill="#50554e" opacity="0.81"/>
<ellipse cx="1764.0" cy="1221.1" rx="2.3" ry="2.8" fill="#50554e" opacity="0.71"/>
<ellipse cx="1715.7" cy="1216.5" rx="2.1" ry="2.5" fill="#50554e" opacity="0.75"/>
<ellipse cx="1726.5" cy="1176.4" rx="2.6" ry="3.1" fill="#50554e" opacity="0.65"/>
<ellipse cx="1781.0" cy="1161.6" rx="2.5" ry="3.0" fill="#50554e" opacity="0.59"/>
<ellipse cx="1727.1" cy="1163.8" rx="1.8" ry="2.1" fill="#50554e" opacity="0.49"/>
<ellipse cx="1755.1" cy="1186.2" rx="2.5" ry="3.0" fill="#50554e" opacity="0.46"/>
<ellipse cx="1718.3" cy="1138.6" rx="2.7" ry="3.2" fill="#50554e" opacity="0.79"/>
<ellipse cx="1709.6" cy="1187.5" rx="1.8" ry="2.1" fill="#50554e" opacity="0.56"/>
<ellipse cx="1698.0" cy="1147.5" rx="2.5" ry="3.1" fill="#50554e" opacity="0.81"/>
<ellipse cx="1704.9" cy="1174.4" rx="2.6" ry="3.1" fill="#50554e" opacity="0.83"/>
<ellipse cx="1748.9" cy="1144.5" rx="2.5" ry="3.0" fill="#50554e" opacity="0.58"/>
<ellipse cx="1788.4" cy="1159.6" rx="2.6" ry="3.1" fill="#50554e" opacity="0.46"/>
<ellipse cx="1726.2" cy="1209.0" rx="2.5" ry="2.9" fill="#50554e" opacity="0.63"/>
<ellipse cx="1784.1" cy="1206.8" rx="2.1" ry="2.5" fill="#50554e" opacity="0.67"/>
<ellipse cx="1735.9" cy="1183.7" rx="2.1" ry="2.5" fill="#50554e" opacity="0.55"/>
<ellipse cx="1781.6" cy="1214.1" rx="2.8" ry="3.3" fill="#50554e" opacity="0.84"/>
<ellipse cx="1763.5" cy="1197.5" rx="2.7" ry="3.2" fill="#50554e" opacity="0.64"/>
<ellipse cx="1732.3" cy="1143.0" rx="2.5" ry="3.0" fill="#50554e" opacity="0.57"/>
<ellipse cx="1710.8" cy="1178.9" rx="2.2" ry="2.6" fill="#50554e" opacity="0.54"/>
<ellipse cx="1771.1" cy="1207.5" rx="1.8" ry="2.2" fill="#50554e" opacity="0.45"/>
<ellipse cx="1719.3" cy="1200.9" rx="2.8" ry="3.3" fill="#50554e" opacity="0.51"/>
<ellipse cx="1766.6" cy="1130.0" rx="2.1" ry="2.6" fill="#50554e" opacity="0.85"/>
<ellipse cx="1703.8" cy="1134.0" rx="2.2" ry="2.6" fill="#50554e" opacity="0.70"/>
<ellipse cx="1783.8" cy="1220.0" rx="1.7" ry="2.0" fill="#50554e" opacity="0.51"/>
<ellipse cx="1768.4" cy="1146.1" rx="2.8" ry="3.4" fill="#50554e" opacity="0.72"/>
<ellipse cx="1695.1" cy="1204.6" rx="1.8" ry="2.2" fill="#50554e" opacity="0.62"/>
<ellipse cx="1742.6" cy="1170.1" rx="2.6" ry="3.1" fill="#50554e" opacity="0.71"/>
<ellipse cx="1790.1" cy="1221.9" rx="2.3" ry="2.8" fill="#50554e" opacity="0.49"/>
<ellipse cx="1761.6" cy="1219.6" rx="2.0" ry="2.5" fill="#50554e" opacity="0.63"/>
<ellipse cx="1728.9" cy="1123.3" rx="2.5" ry="3.0" fill="#50554e" opacity="0.59"/>
<ellipse cx="1768.0" cy="1204.5" rx="2.7" ry="3.3" fill="#50554e" opacity="0.62"/>
<ellipse cx="1717.7" cy="1195.9" rx="2.7" ry="3.3" fill="#50554e" opacity="0.65"/>
<ellipse cx="1779.4" cy="1133.0" rx="2.8" ry="3.4" fill="#50554e" opacity="0.49"/>
<ellipse cx="1699.6" cy="1173.5" rx="1.7" ry="2.0" fill="#50554e" opacity="0.47"/>
<circle cx="1680.1" cy="1086.4" r="3.4" fill="#d0d3c9" opacity="0.6"/>
<circle cx="1753.1" cy="1108.1" r="1.9" fill="#d0d3c9" opacity="0.6"/>
<circle cx="1696.4" cy="1110.2" r="3.6" fill="#a7aba2" opacity="0.6"/>
<circle cx="1771.8" cy="1067.2" r="2.5" fill="#a7aba2" opacity="0.6"/>
<circle cx="1762.6" cy="1076.4" r="3.4" fill="#d0d3c9" opacity="0.6"/>
<circle cx="1764.0" cy="1088.0" r="2.4" fill="#a7aba2" opacity="0.6"/>
<circle cx="1704.5" cy="1073.7" r="3.4" fill="#9a9f97" opacity="0.6"/>
<circle cx="1689.6" cy="1071.9" r="1.9" fill="#d0d3c9" opacity="0.6"/>
<circle cx="1772.2" cy="1084.3" r="4.0" fill="#9a9f97" opacity="0.6"/>
<circle cx="1753.2" cy="1087.1" r="2.5" fill="#d0d3c9" opacity="0.6"/>
<circle cx="1778.0" cy="1116.6" r="3.7" fill="#a7aba2" opacity="0.6"/>
<circle cx="1704.7" cy="1098.7" r="2.2" fill="#d0d3c9" opacity="0.6"/>
<circle cx="1762.3" cy="1093.7" r="2.9" fill="#a7aba2" opacity="0.6"/>
<circle cx="1759.6" cy="1063.5" r="1.6" fill="#9a9f97" opacity="0.6"/>
<circle cx="1747.4" cy="1089.2" r="2.2" fill="#d0d3c9" opacity="0.6"/>
<circle cx="1764.9" cy="1108.3" r="2.9" fill="#a7aba2" opacity="0.6"/>
<circle cx="1723.2" cy="1077.2" r="2.8" fill="#d0d3c9" opacity="0.6"/>
<circle cx="1743.2" cy="1099.9" r="1.7" fill="#d0d3c9" opacity="0.6"/>
<circle cx="1680.1" cy="1073.9" r="3.7" fill="#9a9f97" opacity="0.6"/>
<circle cx="1699.3" cy="1111.9" r="2.7" fill="#a7aba2" opacity="0.6"/>
<circle cx="1733.3" cy="1114.4" r="1.6" fill="#a7aba2" opacity="0.6"/>
<circle cx="1745.6" cy="1072.9" r="3.2" fill="#d0d3c9" opacity="0.6"/>
<circle cx="1704.0" cy="1067.6" r="2.0" fill="#d0d3c9" opacity="0.6"/>
<circle cx="1699.7" cy="1069.5" r="3.7" fill="#a7aba2" opacity="0.6"/>
<circle cx="1715.9" cy="1082.2" r="1.6" fill="#a7aba2" opacity="0.6"/>
<circle cx="1709.7" cy="1096.2" r="2.0" fill="#a7aba2" opacity="0.6"/>
<circle cx="1779.5" cy="1114.1" r="1.7" fill="#9a9f97" opacity="0.6"/>
<circle cx="1692.9" cy="1096.7" r="1.8" fill="#d0d3c9" opacity="0.6"/>
<circle cx="1775.5" cy="1104.2" r="3.5" fill="#9a9f97" opacity="0.6"/>
<circle cx="1791.6" cy="1064.5" r="2.5" fill="#a7aba2" opacity="0.6"/>
<circle cx="1716.3" cy="1115.1" r="2.9" fill="#9a9f97" opacity="0.6"/>
<circle cx="1699.1" cy="1116.8" r="2.7" fill="#9a9f97" opacity="0.6"/>
<circle cx="1735.3" cy="1116.4" r="2.5" fill="#9a9f97" opacity="0.6"/>
<circle cx="1745.5" cy="1069.2" r="2.3" fill="#a7aba2" opacity="0.6"/>
<circle cx="1701.6" cy="1067.8" r="3.7" fill="#d0d3c9" opacity="0.6"/>
<circle cx="1720.2" cy="1084.9" r="2.6" fill="#a7aba2" opacity="0.6"/>
<circle cx="1750.9" cy="1113.9" r="3.8" fill="#9a9f97" opacity="0.6"/>
<circle cx="1716.9" cy="1087.3" r="2.9" fill="#a7aba2" opacity="0.6"/>
<circle cx="1731.7" cy="1098.9" r="2.9" fill="#a7aba2" opacity="0.6"/>
<circle cx="1718.7" cy="1083.2" r="1.7" fill="#d0d3c9" opacity="0.6"/>
<circle cx="1698.6" cy="1102.5" r="2.5" fill="#9a9f97" opacity="0.6"/>
<circle cx="1743.0" cy="1104.3" r="2.1" fill="#d0d3c9" opacity="0.6"/>
<circle cx="1772.6" cy="1113.9" r="3.0" fill="#d0d3c9" opacity="0.6"/>
<circle cx="1685.9" cy="1114.9" r="2.5" fill="#9a9f97" opacity="0.6"/>
<circle cx="1783.5" cy="1094.4" r="1.5" fill="#a7aba2" opacity="0.6"/>
<circle cx="1756.2" cy="1093.5" r="1.6" fill="#d0d3c9" opacity="0.6"/>
<circle cx="1763.3" cy="1109.7" r="2.7" fill="#d0d3c9" opacity="0.6"/>
<circle cx="1680.6" cy="1106.1" r="2.3" fill="#a7aba2" opacity="0.6"/>
<circle cx="1778.4" cy="1082.9" r="2.9" fill="#d0d3c9" opacity="0.6"/>
<circle cx="1698.0" cy="1105.4" r="2.7" fill="#d0d3c9" opacity="0.6"/>
<circle cx="1740.1" cy="1116.1" r="3.9" fill="#9a9f97" opacity="0.6"/>
<circle cx="1701.0" cy="1095.3" r="3.7" fill="#9a9f97" opacity="0.6"/>
<circle cx="1721.9" cy="1067.7" r="3.5" fill="#a7aba2" opacity="0.6"/>
<circle cx="1743.2" cy="1117.0" r="3.0" fill="#a7aba2" opacity="0.6"/>
<circle cx="1727.6" cy="1082.7" r="2.5" fill="#d0d3c9" opacity="0.6"/>
<circle cx="1769.0" cy="1108.9" r="2.2" fill="#d0d3c9" opacity="0.6"/>
<circle cx="1714.0" cy="1111.0" r="1.6" fill="#9a9f97" opacity="0.6"/>
<circle cx="1731.9" cy="1100.6" r="1.9" fill="#a7aba2" opacity="0.6"/>
<circle cx="1754.9" cy="1083.1" r="3.0" fill="#d0d3c9" opacity="0.6"/>
<circle cx="1731.7" cy="1091.2" r="2.0" fill="#d0d3c9" opacity="0.6"/>
<circle cx="1695.6" cy="1072.6" r="2.4" fill="#d0d3c9" opacity="0.6"/>
<circle cx="1786.1" cy="1084.7" r="3.5" fill="#d0d3c9" opacity="0.6"/>
<circle cx="1789.1" cy="1066.5" r="3.1" fill="#9a9f97" opacity="0.6"/>
<circle cx="1751.0" cy="1086.0" r="2.6" fill="#9a9f97" opacity="0.6"/>
<circle cx="1684.0" cy="1091.9" r="4.0" fill="#a7aba2" opacity="0.6"/>
<circle cx="1684.5" cy="1101.5" r="2.3" fill="#9a9f97" opacity="0.6"/>
<circle cx="1781.1" cy="1064.5" r="3.8" fill="#9a9f97" opacity="0.6"/>
<circle cx="1693.2" cy="1065.4" r="3.6" fill="#9a9f97" opacity="0.6"/>
<circle cx="1697.4" cy="1092.0" r="3.8" fill="#9a9f97" opacity="0.6"/>
<circle cx="1724.5" cy="1086.9" r="1.7" fill="#a7aba2" opacity="0.6"/>
<circle cx="1788.5" cy="1079.4" r="2.0" fill="#a7aba2" opacity="0.6"/>
<circle cx="1788.0" cy="1067.3" r="3.7" fill="#d0d3c9" opacity="0.6"/>
<circle cx="1759.3" cy="1108.5" r="3.9" fill="#a7aba2" opacity="0.6"/>
<circle cx="1785.7" cy="1069.1" r="3.5" fill="#9a9f97" opacity="0.6"/>
<circle cx="1741.1" cy="1092.4" r="3.7" fill="#d0d3c9" opacity="0.6"/>
<circle cx="1758.9" cy="1089.0" r="2.6" fill="#9a9f97" opacity="0.6"/>
<circle cx="1723.3" cy="1082.2" r="2.5" fill="#d0d3c9" opacity="0.6"/>
<circle cx="1688.7" cy="1105.7" r="2.6" fill="#d0d3c9" opacity="0.6"/>
<circle cx="1784.2" cy="1096.3" r="1.6" fill="#d0d3c9" opacity="0.6"/>
<circle cx="1703.1" cy="1116.6" r="2.0" fill="#d0d3c9" opacity="0.6"/>
</g></g>
<clipPath id="plotclip"><rect x="248" y="54" width="1618" height="1242"/></clipPath><g clip-path="url(#plotclip)">
<path d="M246.0,1300.5 248.0,1300.2 250.0,1300.7 252.0,1301.0 254.0,1298.3 256.0,1297.9 258.0,1299.1 260.0,1298.4 262.0,1296.8 264.0,1295.2 266.0,1293.7 268.0,1292.9 270.0,1293.7 272.0,1293.2 274.0,1290.1 276.0,1289.1 278.0,1290.7 280.0,1287.9 282.0,1287.3 284.0,1287.0 286.0,1285.8 288.0,1284.8 290.0,1283.5 292.0,1283.9 294.0,1283.5 296.0,1281.1 298.0,1282.1 300.0,1282.5 302.0,1281.7 304.0,1280.5 306.0,1278.4 308.0,1276.0 310.0,1276.8 312.0,1275.5 314.0,1274.3 316.0,1274.7 318.0,1272.6 320.0,1271.7 322.0,1270.6 324.0,1268.9 326.0,1270.0 328.0,1269.0 330.0,1267.6 332.0,1266.4 334.0,1264.5 336.0,1265.0 338.0,1263.4 340.0,1261.0 342.0,1261.0 344.0,1259.3 346.0,1259.2 348.0,1259.8 350.0,1256.3 352.0,1255.3 354.0,1254.7 356.0,1251.2 358.0,1253.2 360.0,1252.9 362.0,1252.0 364.0,1250.1 366.0,1248.3 368.0,1247.2 370.0,1246.1 372.0,1245.7 374.0,1244.3 376.0,1242.6 378.0,1242.0 380.0,1240.8 382.0,1239.5 384.0,1239.8 386.0,1239.5 388.0,1237.2 390.0,1235.5 392.0,1235.2 394.0,1232.7 396.0,1230.7 398.0,1229.5 400.0,1227.6 402.0,1230.2 404.0,1228.3 406.0,1224.8 408.0,1224.3 410.0,1223.7 412.0,1222.1 414.0,1220.5 416.0,1221.9 418.0,1220.4 420.0,1216.9 422.0,1216.3 424.0,1216.6 426.0,1215.1 428.0,1214.5 430.0,1213.4 432.0,1211.6 434.0,1208.2 436.0,1206.8 438.0,1208.2 440.0,1207.4 442.0,1206.5 444.0,1204.7 446.0,1203.0 448.0,1202.9 450.0,1200.3 452.0,1197.7 454.0,1198.6 456.0,1198.5 458.0,1195.7 460.0,1195.9 462.0,1194.5 464.0,1193.6 466.0,1191.0 468.0,1192.8 470.0,1190.6 472.0,1189.9 474.0,1185.5 476.0,1183.4 478.0,1186.8 480.0,1183.9 482.0,1183.4 484.0,1180.5 486.0,1181.7 488.0,1178.4 490.0,1176.5 492.0,1177.5 494.0,1175.7 496.0,1174.6 498.0,1173.6 500.0,1170.7 502.0,1168.1 504.0,1167.1 506.0,1167.2 508.0,1165.9 510.0,1165.6 512.0,1164.7 514.0,1163.9 516.0,1162.0 518.0,1161.8 520.0,1161.4 522.0,1159.7 524.0,1159.1 526.0,1156.2 528.0,1156.1 530.0,1154.0 532.0,1151.8 534.0,1150.7 536.0,1150.7 538.0,1148.2 540.0,1148.3 542.0,1146.3 544.0,1147.0 546.0,1142.3 548.0,1143.0 550.0,1142.5 552.0,1141.4 554.0,1138.9 556.0,1138.2 558.0,1138.6 560.0,1135.8 562.0,1135.6 564.0,1133.3 566.0,1133.1 568.0,1129.7 570.0,1129.0 572.0,1128.3 574.0,1125.1 576.0,1124.4 578.0,1126.2 580.0,1127.7 582.0,1123.4 584.0,1122.5 586.0,1119.1 588.0,1118.9 590.0,1119.1 592.0,1116.6 594.0,1113.4 596.0,1114.4 598.0,1112.9 600.0,1111.9 602.0,1112.3 604.0,1110.3 606.0,1110.9 608.0,1106.8 610.0,1108.2 612.0,1105.5 614.0,1104.4 616.0,1102.4 618.0,1101.5 620.0,1099.8 622.0,1099.4 624.0,1097.4 626.0,1096.9 628.0,1096.0 630.0,1095.7 632.0,1093.7 634.0,1094.6 636.0,1093.6 638.0,1090.8 640.0,1090.5 642.0,1088.3 644.0,1087.4 646.0,1084.5 648.0,1086.6 650.0,1083.0 652.0,1082.8 654.0,1083.1 656.0,1080.7 658.0,1079.9 660.0,1079.4 662.0,1077.6 664.0,1076.3 666.0,1073.5 668.0,1072.0 670.0,1072.4 672.0,1071.7 674.0,1070.3 676.0,1069.7 678.0,1068.4 680.0,1066.7 682.0,1065.9 684.0,1064.3 686.0,1065.4 688.0,1063.5 690.0,1064.1 692.0,1062.8 694.0,1060.0 696.0,1057.3 698.0,1056.4 700.0,1055.5 702.0,1056.9 704.0,1054.1 706.0,1051.6 708.0,1049.9 710.0,1048.0 712.0,1049.8 714.0,1049.3 716.0,1048.6 718.0,1044.2 720.0,1044.6 722.0,1043.6 724.0,1040.9 726.0,1042.7 728.0,1040.7 730.0,1039.6 732.0,1036.6 734.0,1036.4 736.0,1035.5 738.0,1032.4 740.0,1032.7 742.0,1035.2 744.0,1032.9 746.0,1030.4 748.0,1030.0 750.0,1028.7 752.0,1026.8 754.0,1024.0 756.0,1024.9 758.0,1023.1 760.0,1021.9 762.0,1020.9 764.0,1019.6 766.0,1017.4 768.0,1017.9 770.0,1016.6 772.0,1016.5 774.0,1015.7 776.0,1015.4 778.0,1011.9 780.0,1011.1 782.0,1009.4 784.0,1008.6 786.0,1007.9 788.0,1008.1 790.0,1005.0 792.0,1004.9 794.0,1002.5 796.0,1001.1 798.0,1001.1 800.0,999.2 802.0,1000.6 804.0,998.7 806.0,996.5 808.0,996.3 810.0,995.2 812.0,992.3 814.0,990.5 816.0,990.8 818.0,990.2 820.0,990.2 822.0,987.7 824.0,985.9 826.0,987.1 828.0,986.1 830.0,984.5 832.0,983.9 834.0,980.6 836.0,981.5 838.0,978.2 840.0,977.3 842.0,977.0 844.0,976.7 846.0,975.5 848.0,975.2 850.0,972.5 852.0,972.4 854.0,971.6 856.0,970.4 858.0,969.7 860.0,967.3 862.0,966.6 864.0,966.7 866.0,964.9 868.0,966.0 870.0,962.5 872.0,961.0 874.0,961.2 876.0,958.2 878.0,957.1 880.0,955.9 882.0,955.9 884.0,956.9 886.0,954.3 888.0,952.9 890.0,952.2 892.0,951.9 894.0,949.3 896.0,948.6 898.0,947.2 900.0,946.4 902.0,946.1 904.0,945.3 906.0,943.7 908.0,940.3 910.0,940.9 912.0,939.1 914.0,939.2 916.0,937.0 918.0,935.9 920.0,937.2 922.0,934.3 924.0,931.2 926.0,934.2 928.0,931.7 930.0,930.6 932.0,929.7 934.0,927.9 936.0,929.1 938.0,925.5 940.0,926.3 942.0,924.0 944.0,923.0 946.0,922.8 948.0,923.2 950.0,920.8 952.0,920.0 954.0,918.1 956.0,918.6 958.0,918.0 960.0,916.1 962.0,913.8 964.0,911.0 966.0,912.7 968.0,910.1 970.0,909.8 972.0,908.4 974.0,908.7 976.0,906.9 978.0,905.7 980.0,904.7 982.0,902.1 984.0,901.0 986.0,900.6 988.0,899.5 990.0,900.2 992.0,899.9 994.0,896.1 996.0,894.5 998.0,897.0 1000.0,897.5 1002.0,892.7 1004.0,890.1 1006.0,891.8 1008.0,889.8 1010.0,888.3 1012.0,887.8 1014.0,886.8 1016.0,885.2 1018.0,884.9 1020.0,884.4 1022.0,883.7 1024.0,883.9 1026.0,879.9 1028.0,880.4 1030.0,877.9 1032.0,876.3 1034.0,874.3 1036.0,874.4 1038.0,874.2 1040.0,874.0 1042.0,869.0 1044.0,871.1 1046.0,869.5 1048.0,870.0 1050.0,869.2 1052.0,868.9 1054.0,868.0 1056.0,865.5 1058.0,863.6 1060.0,863.6 1062.0,862.7 1064.0,861.2 1066.0,858.5 1068.0,858.6 1070.0,857.0 1072.0,857.7 1074.0,856.9 1076.0,855.4 1078.0,855.5 1080.0,851.8 1082.0,852.5 1084.0,851.2 1086.0,849.8 1088.0,850.3 1090.0,850.2 1092.0,849.5 1094.0,846.2 1096.0,845.9 1098.0,844.9 1100.0,845.8 1102.0,844.9 1104.0,842.4 1106.0,839.6 1108.0,837.4 1110.0,838.0 1112.0,836.7 1114.0,834.1 1116.0,831.6 1118.0,835.2 1120.0,832.8 1122.0,833.2 1124.0,831.7 1126.0,829.5 1128.0,830.5 1130.0,829.5 1132.0,826.2 1134.0,826.2 1136.0,825.0 1138.0,824.0 1140.0,825.7 1142.0,821.0 1144.0,822.5 1146.0,819.3 1148.0,821.1 1150.0,818.2 1152.0,815.7 1154.0,817.0 1156.0,816.2 1158.0,814.5 1160.0,815.3 1162.0,810.5 1164.0,812.1 1166.0,812.7 1168.0,812.7 1170.0,808.4 1172.0,808.6 1174.0,806.5 1176.0,806.8 1178.0,804.9 1180.0,804.4 1182.0,801.4 1184.0,802.0 1186.0,800.2 1188.0,800.2 1190.0,798.3 1192.0,797.4 1194.0,796.4 1196.0,795.3 1198.0,791.7 1200.0,792.8 1202.0,795.0 1204.0,792.9 1206.0,789.4 1208.0,789.8 1210.0,788.8 1212.0,787.0 1214.0,786.4 1216.0,784.4 1218.0,785.0 1220.0,784.2 1222.0,784.8 1224.0,782.5 1226.0,782.8 1228.0,780.9 1230.0,778.1 1232.0,777.1 1234.0,778.1 1236.0,775.0 1238.0,774.8 1240.0,776.1 1242.0,773.0 1244.0,771.7 1246.0,773.7 1248.0,770.5 1250.0,768.7 1252.0,767.1 1254.0,767.3 1256.0,766.3 1258.0,767.3 1260.0,766.8 1262.0,762.8 1264.0,764.0 1266.0,762.5 1268.0,761.6 1270.0,760.0 1272.0,757.9 1274.0,757.7 1276.0,758.9 1278.0,753.7 1280.0,751.3 1282.0,750.1 1284.0,752.4 1286.0,751.7 1288.0,752.4 1290.0,747.8 1292.0,746.7 1294.0,746.2 1296.0,746.3 1298.0,747.7 1300.0,745.5 1302.0,744.6 1304.0,744.3 1306.0,743.4 1308.0,741.0 1310.0,738.4 1312.0,738.2 1314.0,738.0 1316.0,736.9 1318.0,736.7 1320.0,734.4 1322.0,732.3 1324.0,730.9 1326.0,732.1 1328.0,731.8 1330.0,731.0 1332.0,728.8 1334.0,727.5 1336.0,726.8 1338.0,724.1 1340.0,724.9 1342.0,721.1 1344.0,721.0 1346.0,723.3 1348.0,720.5 1350.0,719.1 1352.0,718.7 1354.0,719.2 1356.0,717.9 1358.0,714.7 1360.0,714.8 1362.0,711.5 1364.0,710.4 1366.0,713.2 1368.0,711.8 1370.0,712.0 1372.0,711.1 1374.0,707.8 1376.0,705.9 1378.0,706.9 1380.0,705.3 1382.0,704.2 1384.0,702.2 1386.0,703.1 1388.0,701.1 1390.0,699.8 1392.0,699.1 1394.0,699.6 1396.0,698.4 1398.0,696.5 1400.0,698.5 1402.0,691.1 1404.0,692.0 1406.0,691.4 1408.0,691.0 1410.0,689.1 1412.0,686.2 1414.0,688.9 1416.0,686.6 1418.0,686.2 1420.0,683.1 1422.0,683.8 1424.0,685.1 1426.0,682.0 1428.0,679.7 1430.0,679.0 1432.0,675.9 1434.0,678.2 1436.0,676.3 1438.0,674.0 1440.0,675.2 1442.0,672.3 1444.0,671.2 1446.0,671.6 1448.0,672.1 1450.0,670.3 1452.0,668.0 1454.0,666.0 1456.0,666.3 1458.0,665.0 1460.0,662.1 1462.0,664.2 1464.0,661.4 1466.0,661.1 1468.0,659.2 1470.0,658.8 1472.0,659.3 1474.0,657.4 1476.0,655.0 1478.0,655.4 1480.0,654.8 1482.0,653.0 1484.0,653.1 1486.0,651.5 1488.0,652.2 1490.0,649.8 1492.0,648.8 1494.0,648.6 1496.0,647.0 1498.0,644.7 1500.0,644.4 1502.0,642.6 1504.0,642.7 1506.0,642.1 1508.0,641.0 1510.0,638.5 1512.0,637.9 1514.0,637.9 1516.0,636.8 1518.0,633.7 1520.0,633.6 1522.0,632.7 1524.0,632.7 1526.0,629.1 1528.0,627.8 1530.0,626.9 1532.0,625.6 1534.0,627.7 1536.0,625.9 1538.0,626.0 1540.0,626.3 1542.0,624.9 1544.0,623.3 1546.0,621.2 1548.0,619.2 1550.0,617.0 1552.0,615.6 1554.0,616.6 1556.0,615.6 1558.0,614.4 1560.0,614.8 1562.0,613.7 1564.0,611.9 1566.0,610.7 1568.0,609.5 1570.0,608.5 1572.0,607.6 1574.0,606.1 1576.0,604.9 1578.0,605.5 1580.0,602.7 1582.0,600.3 1584.0,599.5 1586.0,601.8 1588.0,599.0 1590.0,597.9 1592.0,596.5 1594.0,595.9 1596.0,595.6 1598.0,594.5 1600.0,595.4 1602.0,590.6 1604.0,590.1 1606.0,592.7 1608.0,591.1 1610.0,588.3 1612.0,587.5 1614.0,585.8 1616.0,585.6 1618.0,584.2 1620.0,582.2 1622.0,583.2 1624.0,580.6 1626.0,581.1 1628.0,579.1 1630.0,575.5 1632.0,574.0 1634.0,573.3 1636.0,575.8 1638.0,573.3 1640.0,573.4 1642.0,573.1 1644.0,570.8 1646.0,571.2 1648.0,571.0 1650.0,569.5 1652.0,569.3 1654.0,565.3 1656.0,567.2 1658.0,565.5 1660.0,562.6 1662.0,563.0 1664.0,561.0 1666.0,559.3 1668.0,559.1 1670.0,557.2 1672.0,558.3 1674.0,556.4 1676.0,556.8 1678.0,554.7 1680.0,554.0 1682.0,551.6 1684.0,551.3 1686.0,550.8 1688.0,550.2 1690.0,549.4 1692.0,549.6 1694.0,546.1 1696.0,548.1 1698.0,545.5 1700.0,543.3 1702.0,544.7 1704.0,542.4 1706.0,540.9 1708.0,539.6 1710.0,538.7 1712.0,537.9 1714.0,535.9 1716.0,537.1 1718.0,537.0 1720.0,534.2 1722.0,535.3 1724.0,533.9 1726.0,530.4 1728.0,530.1 1730.0,529.6 1732.0,528.5 1734.0,529.8 1736.0,527.0 1738.0,526.7 1740.0,524.4 1742.0,524.5 1744.0,523.6 1746.0,522.5 1748.0,521.8 1750.0,520.4 1752.0,517.9 1754.0,517.4 1756.0,514.7 1758.0,517.0 1760.0,515.9 1762.0,515.3 1764.0,513.2 1766.0,511.8 1768.0,511.2 1770.0,508.7 1772.0,506.8 1774.0,510.1 1776.0,507.4 1778.0,504.6 1780.0,503.1 1782.0,502.5 1784.0,500.2 1786.0,500.8 1788.0,499.8 1790.0,498.5 1792.0,500.1 1794.0,496.5 1796.0,495.2 1798.0,497.6 1800.0,495.9 1802.0,495.1 1804.0,494.1 1806.0,490.5 1808.0,491.1 1810.0,492.4 1812.0,493.1 1814.0,489.6 1816.0,486.3 1818.0,487.2 1820.0,487.3 1822.0,486.2 1824.0,485.9 1826.0,481.7 1828.0,481.0 1830.0,482.5 1832.0,480.7 1834.0,479.2 1836.0,480.4 1838.0,475.9 1840.0,475.1 1842.0,473.2 1844.0,473.2 1846.0,472.1 1848.0,474.0 1850.0,468.9 1852.0,470.7 1854.0,467.2 1856.0,467.3 1858.0,467.6 1860.0,465.2 1862.0,465.3 1864.0,463.3" fill="none" stroke="#000" stroke-width="11.5" stroke-linejoin="round" stroke-linecap="butt"/>
<path d="M248.0,1298.5 250.0,1298.4 252.0,1297.2 254.0,1294.4 256.0,1294.0 258.0,1292.4 260.0,1292.1 262.0,1290.2 264.0,1289.1 266.0,1285.4 268.0,1286.0 270.0,1283.1 272.0,1283.6 274.0,1281.3 276.0,1278.9 278.0,1278.1 280.0,1277.9 282.0,1275.4 284.0,1272.2 286.0,1271.3 288.0,1266.8 290.0,1264.6 292.0,1266.4 294.0,1263.8 296.0,1263.0 298.0,1262.3 300.0,1259.5 302.0,1257.1 304.0,1254.5 306.0,1254.1 308.0,1253.9 310.0,1251.0 312.0,1248.4 314.0,1247.6 316.0,1245.9 318.0,1243.1 320.0,1241.2 322.0,1239.7 324.0,1237.1 326.0,1234.6 328.0,1233.7 330.0,1231.7 332.0,1229.7 334.0,1225.6 336.0,1223.7 338.0,1221.5 340.0,1219.6 342.0,1219.2 344.0,1218.2 346.0,1214.9 348.0,1214.5 350.0,1211.8 352.0,1209.4 354.0,1207.0 356.0,1205.3 358.0,1201.1 360.0,1202.3 362.0,1200.1 364.0,1193.9 366.0,1193.6 368.0,1191.4 370.0,1190.1 372.0,1187.5 374.0,1185.6 376.0,1182.1 378.0,1178.7 380.0,1177.9 382.0,1174.9 384.0,1173.8 386.0,1170.5 388.0,1170.1 390.0,1167.3 392.0,1163.2 394.0,1161.5 396.0,1159.8 398.0,1157.8 400.0,1152.2 402.0,1152.0 404.0,1148.2 406.0,1145.3 408.0,1143.9 410.0,1143.5 412.0,1137.7 414.0,1136.9 416.0,1133.9 418.0,1128.9 420.0,1128.8 422.0,1125.5 424.0,1123.2 426.0,1121.8 428.0,1120.4 430.0,1114.5 432.0,1114.0 434.0,1112.6 436.0,1110.2 438.0,1106.7 440.0,1104.8 442.0,1103.2 444.0,1098.5 446.0,1095.8 448.0,1094.3 450.0,1092.8 452.0,1090.5 454.0,1087.7 456.0,1085.9 458.0,1082.5 460.0,1080.3 462.0,1079.4 464.0,1075.2 466.0,1071.6 468.0,1071.6 470.0,1068.5 472.0,1067.4 474.0,1063.1 476.0,1061.2 478.0,1058.0 480.0,1056.6 482.0,1055.4 484.0,1050.9 486.0,1048.8 488.0,1047.1 490.0,1043.4 492.0,1041.9 494.0,1039.5 496.0,1037.3 498.0,1035.9 500.0,1034.6 502.0,1033.1 504.0,1027.4 506.0,1025.9 508.0,1022.2 510.0,1020.6 512.0,1020.5 514.0,1017.0 516.0,1016.2 518.0,1014.0 520.0,1012.4 522.0,1009.8 524.0,1007.8 526.0,1004.7 528.0,1002.5 530.0,1000.4 532.0,996.6 534.0,993.9 536.0,993.6 538.0,991.9 540.0,989.2 542.0,986.7 544.0,984.4 546.0,984.0 548.0,981.2 550.0,980.0 552.0,977.7 554.0,974.6 556.0,973.3 558.0,973.8 560.0,971.9 562.0,971.0 564.0,968.7 566.0,964.1 568.0,963.0 570.0,961.2 572.0,960.3 574.0,958.4 576.0,954.4 578.0,952.5 580.0,948.2 582.0,947.6 584.0,946.5 586.0,945.5 588.0,943.3 590.0,942.4 592.0,942.0 594.0,939.8 596.0,938.7 598.0,936.7 600.0,931.7 602.0,930.2 604.0,931.2 606.0,930.2 608.0,927.4 610.0,926.2 612.0,922.2 614.0,922.4 616.0,918.9 618.0,917.2 620.0,917.6 622.0,915.6 624.0,912.8 626.0,910.3 628.0,907.8 630.0,906.3 632.0,907.1 634.0,904.3 636.0,900.3 638.0,899.7 640.0,898.1 642.0,899.5 644.0,894.4 646.0,894.6 648.0,893.4 650.0,890.0 652.0,890.0 654.0,889.0 656.0,885.8 658.0,884.0 660.0,884.9 662.0,882.6 664.0,879.3 666.0,877.3 668.0,878.0 670.0,875.0 672.0,873.0 674.0,870.3 676.0,869.8 678.0,869.5 680.0,868.2 682.0,866.0 684.0,863.8 686.0,863.4 688.0,860.3 690.0,859.1 692.0,856.5 694.0,852.8 696.0,854.4 698.0,851.8 700.0,851.6 702.0,849.4 704.0,848.3 706.0,847.3 708.0,845.7 710.0,845.0 712.0,841.5 714.0,841.0 716.0,839.3 718.0,836.4 720.0,837.3 722.0,836.1 724.0,833.5 726.0,832.7 728.0,831.3 730.0,828.6 732.0,827.9 734.0,827.6 736.0,826.3 738.0,824.7 740.0,824.3 742.0,823.5 744.0,818.8 746.0,818.4 748.0,818.0 750.0,816.4 752.0,815.1 754.0,812.4 756.0,811.0 758.0,810.7 760.0,810.1 762.0,807.4 764.0,806.5 766.0,805.7 768.0,803.0 770.0,800.8 772.0,802.8 774.0,798.9 776.0,798.6 778.0,796.7 780.0,794.4 782.0,795.2 784.0,793.3 786.0,790.5 788.0,790.4 790.0,788.1 792.0,783.8 794.0,783.5 796.0,783.7 798.0,782.7 800.0,782.0 802.0,780.5 804.0,778.1 806.0,776.2 808.0,776.7 810.0,774.4 812.0,773.5 814.0,772.4 816.0,770.4 818.0,769.4 820.0,769.9 822.0,767.5 824.0,765.3 826.0,764.5 828.0,761.6 830.0,760.9 832.0,759.6 834.0,759.1 836.0,755.8 838.0,757.1 840.0,753.5 842.0,751.3 844.0,752.4 846.0,750.9 848.0,749.3 850.0,746.8 852.0,745.9 854.0,747.5 856.0,743.4 858.0,743.5 860.0,740.4 862.0,739.5 864.0,737.0 866.0,736.3 868.0,734.7 870.0,732.9 872.0,734.3 874.0,730.9 876.0,729.6 878.0,730.8 880.0,726.1 882.0,724.7 884.0,723.4 886.0,722.0 888.0,724.7 890.0,722.8 892.0,718.8 894.0,718.4 896.0,719.5 898.0,717.0 900.0,712.7 902.0,713.7 904.0,710.8 906.0,710.8 908.0,709.2 910.0,709.8 912.0,706.1 914.0,704.7 916.0,704.0 918.0,702.5 920.0,701.0 922.0,700.5 924.0,699.2 926.0,697.1 928.0,697.0 930.0,694.7 932.0,691.9 934.0,689.9 936.0,688.4 938.0,687.0 940.0,684.4 942.0,686.5 944.0,686.2 946.0,684.1 948.0,683.7 950.0,681.8 952.0,680.4 954.0,676.5 956.0,675.3 958.0,674.6 960.0,673.7 962.0,672.6 964.0,672.5 966.0,668.9 968.0,666.9 970.0,668.0 972.0,666.0 974.0,665.5 976.0,664.0 978.0,662.9 980.0,659.7 982.0,660.1 984.0,657.1 986.0,656.5 988.0,655.5 990.0,653.7 992.0,653.6 994.0,652.0 996.0,651.3 998.0,649.7 1000.0,647.3 1002.0,646.0 1004.0,648.6 1006.0,645.6 1008.0,643.3 1010.0,641.4 1012.0,639.6 1014.0,638.1 1016.0,636.6 1018.0,635.4 1020.0,635.0 1022.0,631.9 1024.0,631.9 1026.0,631.1 1028.0,631.3 1030.0,626.4 1032.0,627.1 1034.0,624.9 1036.0,624.9 1038.0,622.7 1040.0,621.9 1042.0,621.7 1044.0,617.7 1046.0,616.5 1048.0,614.0 1050.0,611.7 1052.0,616.0 1054.0,614.1 1056.0,611.0 1058.0,610.4 1060.0,608.2 1062.0,607.8 1064.0,604.5 1066.0,602.7 1068.0,603.6 1070.0,601.9 1072.0,602.9 1074.0,601.0 1076.0,595.8 1078.0,594.2 1080.0,595.0 1082.0,594.8 1084.0,593.7 1086.0,591.0 1088.0,590.4 1090.0,587.9 1092.0,588.5 1094.0,586.0 1096.0,584.0 1098.0,583.9 1100.0,584.5 1102.0,581.8 1104.0,579.9 1106.0,579.9 1108.0,575.1 1110.0,576.8 1112.0,574.6 1114.0,573.5 1116.0,573.4 1118.0,571.0 1120.0,571.0 1122.0,569.0 1124.0,567.5 1126.0,566.7 1128.0,563.1 1130.0,562.8 1132.0,562.2 1134.0,558.6 1136.0,560.5 1138.0,559.8 1140.0,559.5 1142.0,558.5 1144.0,555.6 1146.0,554.1 1148.0,552.3 1150.0,550.4 1152.0,548.6 1154.0,548.6 1156.0,547.9 1158.0,545.4 1160.0,544.5 1162.0,543.9 1164.0,541.1 1166.0,541.6 1168.0,539.3 1170.0,541.2 1172.0,536.9 1174.0,535.2 1176.0,534.9 1178.0,531.6 1180.0,533.2 1182.0,532.8 1184.0,529.5 1186.0,529.5 1188.0,528.3 1190.0,525.0 1192.0,525.9 1194.0,525.1 1196.0,523.5 1198.0,522.0 1200.0,521.2 1202.0,517.9 1204.0,518.2 1206.0,517.9 1208.0,513.9 1210.0,514.7 1212.0,513.1 1214.0,510.4 1216.0,510.6 1218.0,508.6 1220.0,507.0 1222.0,504.4 1224.0,507.3 1226.0,504.5 1228.0,503.7 1230.0,501.7 1232.0,501.7 1234.0,501.9 1236.0,499.0 1238.0,497.2 1240.0,495.3 1242.0,496.3 1244.0,495.0 1246.0,492.9 1248.0,492.1 1250.0,489.7 1252.0,488.2 1254.0,487.2 1256.0,486.1 1258.0,484.9 1260.0,485.7 1262.0,485.8 1264.0,482.0 1266.0,480.3 1268.0,480.9 1270.0,478.6 1272.0,478.4 1274.0,477.7 1276.0,475.9 1278.0,475.5 1280.0,472.7 1282.0,474.0 1284.0,471.0 1286.0,470.4 1288.0,468.6 1290.0,469.2 1292.0,467.9 1294.0,466.6 1296.0,467.4 1298.0,464.1 1300.0,460.5 1302.0,459.7 1304.0,459.1 1306.0,459.9 1308.0,457.4 1310.0,456.1 1312.0,455.3 1314.0,452.9 1316.0,452.5 1318.0,451.4 1320.0,452.5 1322.0,451.2 1324.0,448.6 1326.0,447.9 1328.0,444.7 1330.0,444.3 1332.0,445.0 1334.0,442.5 1336.0,442.0 1338.0,442.3 1340.0,442.4 1342.0,441.3 1344.0,438.5 1346.0,437.2 1348.0,436.7 1350.0,434.3 1352.0,433.4 1354.0,433.2 1356.0,431.0 1358.0,429.7 1360.0,428.9 1362.0,428.4 1364.0,426.2 1366.0,424.9 1368.0,425.3 1370.0,422.3 1372.0,421.7 1374.0,421.6 1376.0,419.5 1378.0,418.1 1380.0,417.0 1382.0,416.2 1384.0,417.5 1386.0,415.7 1388.0,415.0 1390.0,415.2 1392.0,412.7 1394.0,413.0 1396.0,409.8 1398.0,407.5 1400.0,406.9 1402.0,405.2 1404.0,406.3 1406.0,403.6 1408.0,405.2 1410.0,403.5 1412.0,399.6 1414.0,401.1 1416.0,400.9 1418.0,397.8 1420.0,399.3 1422.0,395.8 1424.0,396.1 1426.0,393.3 1428.0,393.2 1430.0,390.2 1432.0,388.9 1434.0,390.6 1436.0,391.1 1438.0,387.5 1440.0,388.4 1442.0,386.8 1444.0,384.3 1446.0,384.2 1448.0,384.9 1450.0,381.3 1452.0,382.6 1454.0,381.4 1456.0,378.3 1458.0,380.0 1460.0,378.6 1462.0,375.0 1464.0,376.7 1466.0,374.2 1468.0,373.6 1470.0,374.1 1472.0,372.3 1474.0,371.4 1476.0,371.8 1478.0,370.6 1480.0,368.4 1482.0,365.4 1484.0,363.3 1486.0,364.8 1488.0,364.2 1490.0,364.2 1492.0,361.2 1494.0,361.0 1496.0,359.2 1498.0,360.8 1500.0,357.4 1502.0,357.2 1504.0,355.1 1506.0,355.4 1508.0,352.7 1510.0,353.0 1512.0,352.3 1514.0,352.0 1516.0,351.6 1518.0,349.8 1520.0,348.7 1522.0,347.2 1524.0,344.5 1526.0,343.0 1528.0,343.8 1530.0,343.5 1532.0,343.3 1534.0,344.1 1536.0,341.4 1538.0,341.2 1540.0,340.8 1542.0,336.7 1544.0,337.4 1546.0,337.0 1548.0,336.2 1550.0,337.5 1552.0,334.7 1554.0,334.4 1556.0,331.9 1558.0,328.9 1560.0,326.2 1562.0,328.3 1564.0,328.4 1566.0,326.1 1568.0,327.1 1570.0,323.8 1572.0,324.4 1574.0,323.7 1576.0,321.7 1578.0,320.4 1580.0,321.1 1582.0,318.4 1584.0,318.5 1586.0,315.7 1588.0,316.9 1590.0,315.3 1592.0,313.7 1594.0,312.4 1596.0,312.9 1598.0,310.0 1600.0,310.0 1602.0,308.9 1604.0,309.7 1606.0,307.1 1608.0,306.8 1610.0,304.1 1612.0,303.7 1614.0,305.0 1616.0,303.2 1618.0,300.6 1620.0,300.0 1622.0,299.9 1624.0,299.1 1626.0,298.5 1628.0,298.8 1630.0,296.8 1632.0,295.6 1634.0,294.8 1636.0,293.6 1638.0,293.5 1640.0,293.8 1642.0,291.7 1644.0,289.0 1646.0,290.2 1648.0,289.0 1650.0,287.5 1652.0,286.7 1654.0,283.9 1656.0,282.8 1658.0,283.4 1660.0,281.6 1662.0,281.0 1664.0,280.0 1666.0,278.6 1668.0,277.9 1670.0,277.2 1672.0,276.6 1674.0,277.2 1676.0,273.0 1678.0,272.2 1680.0,274.5 1682.0,271.2 1684.0,271.9 1686.0,270.8 1688.0,267.2 1690.0,265.1 1692.0,267.3 1694.0,266.5 1696.0,265.4 1698.0,263.6 1700.0,265.4 1702.0,264.6 1704.0,259.7 1706.0,261.0 1708.0,261.0 1710.0,259.3 1712.0,256.8 1714.0,257.9 1716.0,258.1 1718.0,254.7 1720.0,254.3 1722.0,253.2 1724.0,252.1 1726.0,250.9 1728.0,249.4 1730.0,250.5 1732.0,248.1 1734.0,247.6 1736.0,246.9 1738.0,245.9 1740.0,246.5 1742.0,245.3 1744.0,241.8 1746.0,240.6 1748.0,239.4 1750.0,239.8 1752.0,237.0 1754.0,236.2 1756.0,236.6 1758.0,235.7 1760.0,236.2 1762.0,233.4 1764.0,235.3 1766.0,232.3 1768.0,231.4 1770.0,232.2 1772.0,230.0 1774.0,228.9 1776.0,227.3 1778.0,225.5 1780.0,226.5 1782.0,226.5 1784.0,224.3 1786.0,225.5 1788.0,220.7 1790.0,220.2 1792.0,222.4 1794.0,221.1 1796.0,219.2 1798.0,217.0 1800.0,217.0 1802.0,215.4 1804.0,214.8 1806.0,214.1 1808.0,213.2 1810.0,213.9 1812.0,211.7 1814.0,209.7 1816.0,212.8 1818.0,209.0 1820.0,208.6 1822.0,210.1 1824.0,208.5 1826.0,205.7 1828.0,207.4 1830.0,207.1 1832.0,206.0 1834.0,203.9 1836.0,202.5 1838.0,202.5 1840.0,202.9 1842.0,199.8 1844.0,199.6 1846.0,198.0 1848.0,199.3 1850.0,198.3 1852.0,198.6 1854.0,196.9 1856.0,197.4 1858.0,194.2 1860.0,194.2 1862.0,192.0 1864.0,192.6" fill="none" stroke="#ff0000" stroke-width="11.5" stroke-linejoin="round" stroke-linecap="butt"/>
<path d="M246.0,1294.0 248.0,1291.6 250.0,1287.3 252.0,1284.0 254.0,1283.4 256.0,1277.5 258.0,1273.0 260.0,1269.1 262.0,1267.3 264.0,1264.9 266.0,1260.3 268.0,1257.4 270.0,1252.6 272.0,1251.1 274.0,1245.9 276.0,1245.0 278.0,1240.5 280.0,1237.2 282.0,1233.3 284.0,1230.5 286.0,1227.1 288.0,1222.8 290.0,1220.0 292.0,1216.8 294.0,1212.4 296.0,1208.8 298.0,1205.1 300.0,1201.0 302.0,1198.7 304.0,1192.8 306.0,1190.8 308.0,1185.7 310.0,1182.8 312.0,1178.2 314.0,1173.7 316.0,1169.6 318.0,1167.5 320.0,1162.9 322.0,1160.7 324.0,1158.2 326.0,1151.7 328.0,1146.8 330.0,1144.0 332.0,1139.0 334.0,1136.2 336.0,1132.2 338.0,1126.5 340.0,1121.1 342.0,1118.7 344.0,1115.6 346.0,1111.9 348.0,1108.7 350.0,1104.3 352.0,1099.0 354.0,1098.8 356.0,1095.3 358.0,1089.9 360.0,1086.2 362.0,1081.9 364.0,1079.2 366.0,1073.3 368.0,1069.4 370.0,1066.6 372.0,1061.7 374.0,1055.9 376.0,1052.9 378.0,1052.6 380.0,1049.1 382.0,1044.4 384.0,1040.6 386.0,1038.4 388.0,1035.1 390.0,1031.1 392.0,1028.4 394.0,1026.4 396.0,1022.2 398.0,1019.4 400.0,1014.6 402.0,1010.7 404.0,1008.8 406.0,1006.5 408.0,1003.4 410.0,1000.8 412.0,997.9 414.0,994.4 416.0,989.1 418.0,986.4 420.0,984.5 422.0,982.1 424.0,977.3 426.0,977.0 428.0,972.7 430.0,968.7 432.0,966.4 434.0,965.4 436.0,960.8 438.0,960.0 440.0,956.6 442.0,951.5 444.0,949.4 446.0,945.5 448.0,944.3 450.0,945.3 452.0,942.1 454.0,938.6 456.0,936.3 458.0,935.1 460.0,933.6 462.0,928.9 464.0,926.4 466.0,926.3 468.0,925.4 470.0,920.2 472.0,918.7 474.0,913.6 476.0,914.1 478.0,912.0 480.0,910.5 482.0,908.1 484.0,905.1 486.0,905.3 488.0,903.1 490.0,898.1 492.0,895.4 494.0,894.3 496.0,891.7 498.0,891.8 500.0,886.9 502.0,886.2 504.0,884.5 506.0,881.4 508.0,880.1 510.0,879.6 512.0,876.0 514.0,873.3 516.0,870.7 518.0,871.1 520.0,869.2 522.0,866.6 524.0,864.1 526.0,862.6 528.0,860.7 530.0,856.3 532.0,855.5 534.0,852.1 536.0,850.9 538.0,851.6 540.0,849.9 542.0,845.5 544.0,844.9 546.0,845.6 548.0,843.2 550.0,839.5 552.0,838.1 554.0,835.4 556.0,832.1 558.0,831.6 560.0,831.1 562.0,827.3 564.0,826.6 566.0,823.3 568.0,821.0 570.0,819.9 572.0,819.1 574.0,817.0 576.0,815.2 578.0,813.3 580.0,812.6 582.0,809.9 584.0,808.6 586.0,807.1 588.0,805.4 590.0,802.6 592.0,800.6 594.0,797.4 596.0,796.4 598.0,794.9 600.0,791.6 602.0,789.8 604.0,791.4 606.0,787.2 608.0,784.4 610.0,784.4 612.0,784.5 614.0,781.5 616.0,780.1 618.0,776.0 620.0,774.3 622.0,774.6 624.0,772.3 626.0,770.3 628.0,769.3 630.0,766.5 632.0,763.4 634.0,761.4 636.0,759.5 638.0,757.2 640.0,756.9 642.0,755.7 644.0,753.4 646.0,749.2 648.0,747.7 650.0,749.5 652.0,745.2 654.0,743.2 656.0,740.5 658.0,740.6 660.0,738.8 662.0,733.5 664.0,732.1 666.0,731.5 668.0,729.6 670.0,727.9 672.0,725.8 674.0,726.1 676.0,724.9 678.0,721.3 680.0,718.3 682.0,718.0 684.0,715.9 686.0,713.2 688.0,712.7 690.0,709.1 692.0,707.5 694.0,706.3 696.0,705.1 698.0,703.3 700.0,703.5 702.0,700.5 704.0,698.0 706.0,698.6 708.0,694.0 710.0,692.9 712.0,691.4 714.0,691.6 716.0,689.2 718.0,686.1 720.0,684.4 722.0,684.7 724.0,680.3 726.0,680.0 728.0,679.1 730.0,674.9 732.0,672.2 734.0,672.0 736.0,670.0 738.0,670.2 740.0,669.3 742.0,667.9 744.0,664.6 746.0,665.7 748.0,663.6 750.0,662.5 752.0,662.0 754.0,660.2 756.0,660.3 758.0,656.8 760.0,654.7 762.0,652.4 764.0,652.0 766.0,649.0 768.0,649.8 770.0,648.4 772.0,648.2 774.0,644.9 776.0,641.6 778.0,643.4 780.0,642.4 782.0,642.3 784.0,638.6 786.0,636.5 788.0,636.0 790.0,633.4 792.0,631.8 794.0,631.1 796.0,633.1 798.0,628.3 800.0,626.7 802.0,626.1 804.0,625.2 806.0,626.5 808.0,625.0 810.0,623.2 812.0,621.2 814.0,618.7 816.0,616.7 818.0,615.6 820.0,617.5 822.0,614.6 824.0,614.7 826.0,612.5 828.0,611.4 830.0,610.0 832.0,607.6 834.0,607.8 836.0,607.0 838.0,605.3 840.0,603.8 842.0,603.0 844.0,601.1 846.0,599.4 848.0,596.4 850.0,597.5 852.0,598.1 854.0,595.3 856.0,594.7 858.0,593.3 860.0,591.6 862.0,592.2 864.0,589.4 866.0,587.6 868.0,585.5 870.0,583.0 872.0,579.9 874.0,580.8 876.0,578.1 878.0,576.6 880.0,578.4 882.0,577.9 884.0,576.5 886.0,573.1 888.0,571.8 890.0,570.4 892.0,568.9 894.0,569.0 896.0,568.3 898.0,564.9 900.0,566.7 902.0,564.0 904.0,564.1 906.0,563.8 908.0,560.7 910.0,559.5 912.0,558.2 914.0,555.2 916.0,554.0 918.0,553.5 920.0,550.2 922.0,549.7 924.0,549.0 926.0,547.6 928.0,545.3 930.0,546.7 932.0,547.2 934.0,546.4 936.0,543.8 938.0,541.3 940.0,540.8 942.0,538.7 944.0,536.9 946.0,535.5 948.0,535.1 950.0,534.5 952.0,530.2 954.0,530.4 956.0,528.4 958.0,530.0 960.0,527.7 962.0,527.1 964.0,527.0 966.0,520.8 968.0,523.7 970.0,521.4 972.0,518.4 974.0,515.0 976.0,516.5 978.0,516.1 980.0,516.7 982.0,514.8 984.0,513.3 986.0,510.3 988.0,508.4 990.0,509.4 992.0,508.3 994.0,507.5 996.0,506.7 998.0,506.6 1000.0,503.5 1002.0,501.3 1004.0,500.3 1006.0,499.6 1008.0,497.4 1010.0,498.4 1012.0,498.1 1014.0,496.0 1016.0,496.1 1018.0,492.5 1020.0,491.6 1022.0,490.2 1024.0,489.3 1026.0,488.3 1028.0,486.1 1030.0,486.4 1032.0,485.9 1034.0,486.4 1036.0,483.3 1038.0,481.6 1040.0,482.4 1042.0,480.7 1044.0,480.1 1046.0,478.9 1048.0,478.9 1050.0,478.0 1052.0,478.2 1054.0,474.7 1056.0,473.6 1058.0,471.1 1060.0,470.8 1062.0,469.8 1064.0,469.1 1066.0,467.0 1068.0,468.3 1070.0,466.1 1072.0,466.3 1074.0,463.0 1076.0,463.5 1078.0,465.3 1080.0,462.1 1082.0,462.9 1084.0,461.6 1086.0,458.2 1088.0,457.3 1090.0,456.3 1092.0,455.8 1094.0,453.2 1096.0,452.0 1098.0,452.3 1100.0,453.3 1102.0,450.6 1104.0,450.9 1106.0,449.4 1108.0,447.1 1110.0,447.4 1112.0,444.7 1114.0,446.0 1116.0,445.9 1118.0,444.6 1120.0,443.5 1122.0,442.3 1124.0,444.3 1126.0,440.0 1128.0,438.4 1130.0,438.6 1132.0,436.8 1134.0,436.5 1136.0,434.8 1138.0,432.2 1140.0,432.6 1142.0,431.1 1144.0,429.7 1146.0,429.6 1148.0,428.9 1150.0,430.9 1152.0,429.9 1154.0,428.7 1156.0,426.9 1158.0,425.3 1160.0,425.8 1162.0,424.1 1164.0,423.8 1166.0,421.8 1168.0,420.8 1170.0,422.4 1172.0,420.4 1174.0,418.6 1176.0,419.1 1178.0,417.8 1180.0,418.0 1182.0,416.4 1184.0,415.1 1186.0,415.9 1188.0,413.7 1190.0,413.2 1192.0,412.2 1194.0,411.7 1196.0,410.7 1198.0,409.6 1200.0,410.5 1202.0,410.3 1204.0,408.8 1206.0,406.9 1208.0,406.6 1210.0,404.4 1212.0,405.6 1214.0,404.2 1216.0,402.6 1218.0,400.2 1220.0,399.0 1222.0,401.6 1224.0,402.2 1226.0,400.7 1228.0,399.2 1230.0,397.1 1232.0,394.5 1234.0,396.8 1236.0,395.1 1238.0,393.2 1240.0,391.0 1242.0,393.0 1244.0,392.9 1246.0,390.9 1248.0,391.9 1250.0,390.0 1252.0,389.3 1254.0,389.0 1256.0,387.6 1258.0,387.2 1260.0,386.1 1262.0,385.8 1264.0,383.5 1266.0,383.2 1268.0,381.7 1270.0,381.4 1272.0,380.7 1274.0,382.3 1276.0,380.4 1278.0,379.7 1280.0,377.9 1282.0,376.5 1284.0,374.3 1286.0,376.8 1288.0,377.2 1290.0,373.1 1292.0,373.8 1294.0,375.2 1296.0,373.0 1298.0,372.1 1300.0,369.9 1302.0,368.6 1304.0,369.2 1306.0,368.4 1308.0,366.4 1310.0,368.7 1312.0,365.7 1314.0,365.4 1316.0,364.4 1318.0,365.0 1320.0,363.6 1322.0,359.4 1324.0,361.7 1326.0,360.9 1328.0,360.2 1330.0,356.7 1332.0,358.2 1334.0,359.3 1336.0,358.6 1338.0,359.7 1340.0,357.8 1342.0,353.7 1344.0,352.6 1346.0,353.0 1348.0,350.9 1350.0,351.2 1352.0,349.4 1354.0,348.6 1356.0,349.5 1358.0,346.6 1360.0,346.3 1362.0,344.7 1364.0,347.4 1366.0,346.6 1368.0,346.8 1370.0,343.7 1372.0,342.0 1374.0,341.6 1376.0,342.6 1378.0,343.9 1380.0,342.3 1382.0,339.8 1384.0,338.5 1386.0,338.5 1388.0,336.8 1390.0,335.5 1392.0,335.8 1394.0,335.2 1396.0,336.3 1398.0,333.3 1400.0,331.8 1402.0,333.1 1404.0,332.2 1406.0,331.7 1408.0,330.9 1410.0,329.7 1412.0,329.9 1414.0,328.6 1416.0,327.0 1418.0,326.8 1420.0,326.8 1422.0,323.9 1424.0,323.7 1426.0,323.3 1428.0,323.0 1430.0,323.8 1432.0,321.6 1434.0,322.4 1436.0,322.1 1438.0,322.9 1440.0,320.5 1442.0,319.2 1444.0,318.1 1446.0,319.2 1448.0,319.3 1450.0,319.1 1452.0,319.6 1454.0,317.9 1456.0,317.5 1458.0,316.5 1460.0,316.9 1462.0,314.0 1464.0,312.7 1466.0,314.9 1468.0,314.5 1470.0,313.0 1472.0,313.8 1474.0,314.1 1476.0,310.5 1478.0,310.9 1480.0,310.7 1482.0,311.2 1484.0,311.0 1486.0,308.4 1488.0,309.4 1490.0,306.2 1492.0,306.5 1494.0,304.4 1496.0,306.0 1498.0,306.9 1500.0,304.7 1502.0,304.5 1504.0,305.3 1506.0,305.1 1508.0,304.0 1510.0,302.3 1512.0,304.5 1514.0,306.0 1516.0,303.5 1518.0,303.1 1520.0,302.6 1522.0,301.6 1524.0,301.4 1526.0,300.9 1528.0,299.6 1530.0,301.6 1532.0,301.4 1534.0,298.9 1536.0,299.8 1538.0,297.1 1540.0,297.3 1542.0,298.9 1544.0,296.5 1546.0,295.1 1548.0,296.2 1550.0,294.3 1552.0,297.3 1554.0,297.0 1556.0,296.1 1558.0,293.4 1560.0,291.6 1562.0,292.4 1564.0,293.6 1566.0,293.2 1568.0,292.1 1570.0,292.3 1572.0,291.5 1574.0,291.7 1576.0,288.7 1578.0,289.6 1580.0,289.5 1582.0,290.6 1584.0,290.3 1586.0,287.3 1588.0,288.7 1590.0,290.1 1592.0,288.4 1594.0,286.4 1596.0,286.9 1598.0,286.6 1600.0,286.0 1602.0,284.8 1604.0,285.2 1606.0,284.3 1608.0,285.2 1610.0,283.1 1612.0,283.1 1614.0,283.1 1616.0,282.4 1618.0,282.4 1620.0,281.5 1622.0,281.5 1624.0,280.8 1626.0,281.3 1628.0,282.6 1630.0,280.9 1632.0,279.1 1634.0,281.3 1636.0,281.3 1638.0,278.5 1640.0,277.9 1642.0,279.0 1644.0,276.6 1646.0,275.4 1648.0,276.7 1650.0,275.5 1652.0,276.0 1654.0,273.8 1656.0,274.7 1658.0,275.3 1660.0,275.6 1662.0,271.3 1664.0,271.2 1666.0,271.7 1668.0,271.2 1670.0,268.9 1672.0,268.8 1674.0,266.6 1676.0,269.4 1678.0,268.8 1680.0,268.3 1682.0,267.4 1684.0,267.4 1686.0,266.1 1688.0,264.6 1690.0,265.7 1692.0,267.1 1694.0,264.9 1696.0,263.7 1698.0,261.3 1700.0,261.1 1702.0,260.7 1704.0,261.1 1706.0,261.0 1708.0,260.4 1710.0,260.4 1712.0,259.3 1714.0,259.4 1716.0,260.9 1718.0,259.5 1720.0,258.0 1722.0,257.8 1724.0,256.3 1726.0,256.8 1728.0,254.8 1730.0,254.1 1732.0,252.1 1734.0,253.2 1736.0,253.9 1738.0,252.5 1740.0,250.6 1742.0,249.4 1744.0,249.8 1746.0,249.0 1748.0,248.6 1750.0,248.3 1752.0,249.9 1754.0,247.6 1756.0,246.6 1758.0,246.2 1760.0,247.3 1762.0,244.7 1764.0,246.9 1766.0,244.9 1768.0,243.0 1770.0,244.5 1772.0,243.7 1774.0,243.2 1776.0,240.3 1778.0,240.9 1780.0,240.2 1782.0,241.3 1784.0,239.0 1786.0,237.2 1788.0,239.2 1790.0,239.8 1792.0,237.5 1794.0,238.4 1796.0,236.9 1798.0,236.6 1800.0,235.7 1802.0,236.0 1804.0,234.2 1806.0,234.9 1808.0,234.4 1810.0,233.0 1812.0,233.3 1814.0,233.5 1816.0,231.0 1818.0,232.2 1820.0,231.6 1822.0,232.7 1824.0,232.4 1826.0,232.5 1828.0,231.5 1830.0,230.8 1832.0,229.7 1834.0,230.9 1836.0,232.0 1838.0,231.4 1840.0,232.6 1842.0,231.1 1844.0,229.3 1846.0,229.8 1848.0,228.4 1850.0,229.2 1852.0,228.1 1854.0,230.5 1856.0,230.3 1858.0,228.1 1860.0,230.8 1862.0,230.1 1864.0,227.8" fill="none" stroke="#0000ff" stroke-width="11.5" stroke-linejoin="round" stroke-linecap="butt"/>
<path d="M246.0,1289.7 248.0,1282.4 250.0,1281.6 252.0,1277.6 254.0,1275.3 256.0,1271.0 258.0,1267.8 260.0,1262.4 262.0,1260.1 264.0,1257.1 266.0,1253.3 268.0,1248.4 270.0,1244.7 272.0,1241.2 274.0,1235.8 276.0,1230.2 278.0,1226.3 280.0,1220.3 282.0,1217.3 284.0,1210.8 286.0,1208.6 288.0,1202.9 290.0,1198.8 292.0,1193.6 294.0,1187.1 296.0,1183.2 298.0,1175.2 300.0,1172.2 302.0,1167.1 304.0,1163.8 306.0,1156.8 308.0,1151.1 310.0,1148.0 312.0,1142.7 314.0,1137.1 316.0,1133.5 318.0,1129.7 320.0,1123.8 322.0,1117.3 324.0,1114.3 326.0,1108.7 328.0,1104.9 330.0,1099.3 332.0,1096.1 334.0,1090.5 336.0,1086.2 338.0,1082.1 340.0,1076.9 342.0,1072.8 344.0,1069.3 346.0,1065.4 348.0,1061.9 350.0,1057.7 352.0,1054.8 354.0,1050.1 356.0,1046.3 358.0,1041.5 360.0,1038.4 362.0,1033.1 364.0,1028.7 366.0,1022.0 368.0,1018.5 370.0,1014.3 372.0,1009.8 374.0,1006.3 376.0,1002.4 378.0,997.4 380.0,990.4 382.0,988.9 384.0,984.9 386.0,979.7 388.0,976.7 390.0,976.0 392.0,970.5 394.0,967.1 396.0,965.0 398.0,959.9 400.0,956.8 402.0,953.6 404.0,951.1 406.0,949.0 408.0,943.8 410.0,941.4 412.0,940.9 414.0,936.2 416.0,932.1 418.0,930.2 420.0,928.1 422.0,923.4 424.0,921.3 426.0,920.5 428.0,916.3 430.0,913.9 432.0,909.8 434.0,908.6 436.0,906.7 438.0,900.2 440.0,898.3 442.0,896.5 444.0,894.1 446.0,892.5 448.0,888.9 450.0,884.4 452.0,882.8 454.0,878.0 456.0,875.2 458.0,876.5 460.0,871.0 462.0,868.8 464.0,865.2 466.0,865.1 468.0,861.9 470.0,857.6 472.0,854.7 474.0,852.9 476.0,848.4 478.0,846.3 480.0,843.3 482.0,842.6 484.0,838.5 486.0,835.4 488.0,833.3 490.0,832.5 492.0,827.5 494.0,825.2 496.0,822.3 498.0,819.8 500.0,816.6 502.0,815.1 504.0,812.6 506.0,809.2 508.0,811.0 510.0,806.5 512.0,803.3 514.0,800.0 516.0,797.0 518.0,796.8 520.0,793.3 522.0,791.7 524.0,787.6 526.0,788.9 528.0,788.0 530.0,782.4 532.0,781.0 534.0,777.1 536.0,775.7 538.0,772.0 540.0,768.8 542.0,766.9 544.0,765.4 546.0,762.7 548.0,759.9 550.0,759.2 552.0,757.0 554.0,754.8 556.0,753.2 558.0,752.0 560.0,747.8 562.0,743.5 564.0,743.4 566.0,740.0 568.0,736.0 570.0,733.1 572.0,731.3 574.0,732.7 576.0,731.2 578.0,726.5 580.0,727.3 582.0,722.5 584.0,721.7 586.0,718.3 588.0,716.2 590.0,714.8 592.0,712.8 594.0,710.7 596.0,709.9 598.0,706.7 600.0,704.7 602.0,704.5 604.0,701.1 606.0,699.4 608.0,698.3 610.0,695.2 612.0,691.8 614.0,688.7 616.0,689.8 618.0,687.5 620.0,685.8 622.0,682.6 624.0,681.3 626.0,680.2 628.0,676.8 630.0,674.0 632.0,672.7 634.0,672.8 636.0,668.7 638.0,664.3 640.0,662.7 642.0,662.8 644.0,662.8 646.0,660.3 648.0,657.7 650.0,655.7 652.0,654.9 654.0,653.0 656.0,650.8 658.0,648.2 660.0,645.9 662.0,646.3 664.0,640.7 666.0,642.4 668.0,639.6 670.0,639.1 672.0,636.5 674.0,635.5 676.0,633.9 678.0,631.4 680.0,630.4 682.0,626.0 684.0,626.4 686.0,624.9 688.0,623.7 690.0,622.8 692.0,620.7 694.0,620.4 696.0,614.9 698.0,614.8 700.0,614.9 702.0,611.4 704.0,610.6 706.0,610.6 708.0,608.2 710.0,603.4 712.0,603.1 714.0,600.7 716.0,598.6 718.0,598.1 720.0,596.7 722.0,593.2 724.0,593.1 726.0,590.5 728.0,590.1 730.0,590.2 732.0,587.5 734.0,585.5 736.0,583.7 738.0,583.9 740.0,583.0 742.0,580.7 744.0,579.3 746.0,579.3 748.0,577.7 750.0,576.0 752.0,571.4 754.0,572.6 756.0,569.6 758.0,567.3 760.0,566.6 762.0,564.8 764.0,564.3 766.0,563.6 768.0,559.4 770.0,557.6 772.0,558.6 774.0,559.1 776.0,556.4 778.0,552.4 780.0,554.4 782.0,547.8 784.0,548.6 786.0,549.9 788.0,548.8 790.0,543.8 792.0,543.1 794.0,546.0 796.0,543.3 798.0,537.9 800.0,537.8 802.0,537.1 804.0,535.6 806.0,534.5 808.0,534.4 810.0,532.4 812.0,530.1 814.0,528.8 816.0,527.3 818.0,527.5 820.0,524.6 822.0,524.2 824.0,524.1 826.0,523.5 828.0,521.7 830.0,518.6 832.0,517.9 834.0,517.7 836.0,517.2 838.0,515.2 840.0,513.1 842.0,513.6 844.0,510.2 846.0,510.3 848.0,508.6 850.0,507.4 852.0,506.7 854.0,505.1 856.0,502.5 858.0,503.9 860.0,502.3 862.0,500.0 864.0,499.2 866.0,497.8 868.0,498.2 870.0,495.6 872.0,493.1 874.0,495.9 876.0,492.8 878.0,491.6 880.0,491.8 882.0,486.5 884.0,486.5 886.0,487.0 888.0,487.7 890.0,487.3 892.0,484.6 894.0,483.8 896.0,480.2 898.0,481.7 900.0,480.2 902.0,480.6 904.0,476.3 906.0,476.4 908.0,474.8 910.0,472.1 912.0,472.8 914.0,472.2 916.0,472.0 918.0,470.8 920.0,469.2 922.0,468.1 924.0,466.7 926.0,467.1 928.0,465.8 930.0,464.7 932.0,463.7 934.0,463.5 936.0,460.5 938.0,462.0 940.0,460.0 942.0,460.2 944.0,457.4 946.0,456.2 948.0,455.8 950.0,456.8 952.0,455.2 954.0,453.7 956.0,452.4 958.0,451.8 960.0,450.1 962.0,449.6 964.0,449.6 966.0,448.9 968.0,449.5 970.0,445.1 972.0,444.5 974.0,442.7 976.0,443.2 978.0,442.8 980.0,441.7 982.0,439.6 984.0,438.5 986.0,438.5 988.0,438.1 990.0,438.8 992.0,435.1 994.0,434.9 996.0,432.7 998.0,433.9 1000.0,433.7 1002.0,432.3 1004.0,430.1 1006.0,429.4 1008.0,428.9 1010.0,430.3 1012.0,430.5 1014.0,426.7 1016.0,427.0 1018.0,426.3 1020.0,426.9 1022.0,424.2 1024.0,424.4 1026.0,421.9 1028.0,422.0 1030.0,421.2 1032.0,419.9 1034.0,420.6 1036.0,419.0 1038.0,419.4 1040.0,417.0 1042.0,414.7 1044.0,414.3 1046.0,417.0 1048.0,414.3 1050.0,414.0 1052.0,413.2 1054.0,414.2 1056.0,413.0 1058.0,410.5 1060.0,409.4 1062.0,407.9 1064.0,408.7 1066.0,407.2 1068.0,406.1 1070.0,406.4 1072.0,404.7 1074.0,407.8 1076.0,404.7 1078.0,402.3 1080.0,402.0 1082.0,401.0 1084.0,401.1 1086.0,399.2 1088.0,401.1 1090.0,398.5 1092.0,398.2 1094.0,398.9 1096.0,398.0 1098.0,395.4 1100.0,395.2 1102.0,397.6 1104.0,396.5 1106.0,394.0 1108.0,392.6 1110.0,393.0 1112.0,391.8 1114.0,390.7 1116.0,389.6 1118.0,390.1 1120.0,389.4 1122.0,387.8 1124.0,385.6 1126.0,388.8 1128.0,386.6 1130.0,386.1 1132.0,384.8 1134.0,384.3 1136.0,383.3 1138.0,382.9 1140.0,382.1 1142.0,382.8 1144.0,380.7 1146.0,378.8 1148.0,379.5 1150.0,380.4 1152.0,379.5 1154.0,377.8 1156.0,377.5 1158.0,377.4 1160.0,375.9 1162.0,376.3 1164.0,375.7 1166.0,374.0 1168.0,373.7 1170.0,372.2 1172.0,372.3 1174.0,371.9 1176.0,372.4 1178.0,371.6 1180.0,371.2 1182.0,369.1 1184.0,373.1 1186.0,369.3 1188.0,368.8 1190.0,367.1 1192.0,365.5 1194.0,366.0 1196.0,365.6 1198.0,363.9 1200.0,363.4 1202.0,365.5 1204.0,360.8 1206.0,361.4 1208.0,361.9 1210.0,360.3 1212.0,359.8 1214.0,361.4 1216.0,359.6 1218.0,359.2 1220.0,357.0 1222.0,356.3 1224.0,354.5 1226.0,354.1 1228.0,354.9 1230.0,356.1 1232.0,355.1 1234.0,351.9 1236.0,353.2 1238.0,353.4 1240.0,352.8 1242.0,349.3 1244.0,350.9 1246.0,351.5 1248.0,349.9 1250.0,349.4 1252.0,349.1 1254.0,350.8 1256.0,351.2 1258.0,345.3 1260.0,344.3 1262.0,343.8 1264.0,347.3 1266.0,342.6 1268.0,343.8 1270.0,343.8 1272.0,343.9 1274.0,340.7 1276.0,339.4 1278.0,340.9 1280.0,340.6 1282.0,340.0 1284.0,336.8 1286.0,337.5 1288.0,337.1 1290.0,336.3 1292.0,336.7 1294.0,337.9 1296.0,336.6 1298.0,333.7 1300.0,334.7 1302.0,334.5 1304.0,333.6 1306.0,332.8 1308.0,330.0 1310.0,333.0 1312.0,332.5 1314.0,328.3 1316.0,328.0 1318.0,326.7 1320.0,327.9 1322.0,326.9 1324.0,325.8 1326.0,327.2 1328.0,326.6 1330.0,326.9 1332.0,325.0 1334.0,324.3 1336.0,324.7 1338.0,325.9 1340.0,323.8 1342.0,321.1 1344.0,321.9 1346.0,320.0 1348.0,318.5 1350.0,318.5 1352.0,318.1 1354.0,319.6 1356.0,319.9 1358.0,318.1 1360.0,317.2 1362.0,316.7 1364.0,316.7 1366.0,316.2 1368.0,317.0 1370.0,313.5 1372.0,313.1 1374.0,314.5 1376.0,313.2 1378.0,311.7 1380.0,311.7 1382.0,312.2 1384.0,311.7 1386.0,311.3 1388.0,310.4 1390.0,308.8 1392.0,308.0 1394.0,307.1 1396.0,307.8 1398.0,309.7 1400.0,308.4 1402.0,306.1 1404.0,306.0 1406.0,304.9 1408.0,305.4 1410.0,306.1 1412.0,305.5 1414.0,304.0 1416.0,303.2 1418.0,302.6 1420.0,301.2 1422.0,301.9 1424.0,301.1 1426.0,301.5 1428.0,300.4 1430.0,300.5 1432.0,301.0 1434.0,301.7 1436.0,297.8 1438.0,299.3 1440.0,298.4 1442.0,297.6 1444.0,296.6 1446.0,297.2 1448.0,297.0 1450.0,295.2 1452.0,294.8 1454.0,295.7 1456.0,294.4 1458.0,295.7 1460.0,294.6 1462.0,291.8 1464.0,293.2 1466.0,292.6 1468.0,291.8 1470.0,291.8 1472.0,289.7 1474.0,290.6 1476.0,290.7 1478.0,290.6 1480.0,290.8 1482.0,291.9 1484.0,290.9 1486.0,288.6 1488.0,287.9 1490.0,287.8 1492.0,287.8 1494.0,288.4 1496.0,288.4 1498.0,287.0 1500.0,285.9 1502.0,287.6 1504.0,284.9 1506.0,286.2 1508.0,286.5 1510.0,285.1 1512.0,284.3 1514.0,285.5 1516.0,286.9 1518.0,284.2 1520.0,283.1 1522.0,283.3 1524.0,282.3 1526.0,281.8 1528.0,283.4 1530.0,284.3 1532.0,284.1 1534.0,282.5 1536.0,281.0 1538.0,283.2 1540.0,281.7 1542.0,281.0 1544.0,281.1 1546.0,279.4 1548.0,278.8 1550.0,278.6 1552.0,278.5 1554.0,279.2 1556.0,278.5 1558.0,277.7 1560.0,275.3 1562.0,277.0 1564.0,277.6 1566.0,277.4 1568.0,277.3 1570.0,275.5 1572.0,276.9 1574.0,279.6 1576.0,277.0 1578.0,277.7 1580.0,275.1 1582.0,274.7 1584.0,272.5 1586.0,274.5 1588.0,273.9 1590.0,274.1 1592.0,274.8 1594.0,275.1 1596.0,274.2 1598.0,273.1 1600.0,273.6 1602.0,271.9 1604.0,271.9 1606.0,273.9 1608.0,273.1 1610.0,272.8 1612.0,272.9 1614.0,270.5 1616.0,271.6 1618.0,268.1 1620.0,268.7 1622.0,269.8 1624.0,269.6 1626.0,269.7 1628.0,269.0 1630.0,268.0 1632.0,267.7 1634.0,270.7 1636.0,270.4 1638.0,266.4 1640.0,267.6 1642.0,268.4 1644.0,266.7 1646.0,266.7 1648.0,265.7 1650.0,265.8 1652.0,266.8 1654.0,266.2 1656.0,266.2 1658.0,264.8 1660.0,264.8 1662.0,265.9 1664.0,265.4 1666.0,264.3 1668.0,262.6 1670.0,265.9 1672.0,265.5 1674.0,265.5 1676.0,265.7 1678.0,262.4 1680.0,262.0 1682.0,262.0 1684.0,260.7 1686.0,262.3 1688.0,262.7 1690.0,260.8 1692.0,262.6 1694.0,260.0 1696.0,259.9 1698.0,259.6 1700.0,259.5 1702.0,262.5 1704.0,260.9 1706.0,260.3 1708.0,258.5 1710.0,256.9 1712.0,256.8 1714.0,257.9 1716.0,257.2 1718.0,258.5 1720.0,258.7 1722.0,259.2 1724.0,257.8 1726.0,259.5 1728.0,257.6 1730.0,257.9 1732.0,259.3 1734.0,256.2 1736.0,254.0 1738.0,255.0 1740.0,252.8 1742.0,253.4 1744.0,255.1 1746.0,256.5 1748.0,255.7 1750.0,253.7 1752.0,252.2 1754.0,252.0 1756.0,251.8 1758.0,249.9 1760.0,250.8 1762.0,252.6 1764.0,252.0 1766.0,251.5 1768.0,250.7 1770.0,250.2 1772.0,251.0 1774.0,248.1 1776.0,248.9 1778.0,250.4 1780.0,250.7 1782.0,250.2 1784.0,247.4 1786.0,250.0 1788.0,249.1 1790.0,248.8 1792.0,249.4 1794.0,248.4 1796.0,246.6 1798.0,246.1 1800.0,248.0 1802.0,245.3 1804.0,247.6 1806.0,246.6 1808.0,246.9 1810.0,247.8 1812.0,247.2 1814.0,247.4 1816.0,246.5 1818.0,245.2 1820.0,245.5 1822.0,244.6 1824.0,243.5 1826.0,244.2 1828.0,242.6 1830.0,243.8 1832.0,245.9 1834.0,243.9 1836.0,243.1 1838.0,242.5 1840.0,241.2 1842.0,242.3 1844.0,241.8 1846.0,241.7 1848.0,241.5 1850.0,241.7 1852.0,239.9 1854.0,241.8 1856.0,240.7 1858.0,239.2 1860.0,238.7 1862.0,240.9 1864.0,241.4" fill="none" stroke="#ff00ff" stroke-width="11.5" stroke-linejoin="round" stroke-linecap="butt"/>
<path d="M246.0,1293.4 248.0,1290.0 250.0,1287.2 252.0,1284.1 254.0,1285.6 256.0,1285.1 258.0,1283.0 260.0,1281.5 262.0,1278.2 264.0,1274.6 266.0,1277.7 268.0,1272.6 270.0,1271.4 272.0,1271.5 274.0,1266.0 276.0,1264.2 278.0,1262.9 280.0,1261.6 282.0,1254.9 284.0,1254.2 286.0,1253.8 288.0,1250.4 290.0,1249.8 292.0,1248.3 294.0,1246.3 296.0,1243.9 298.0,1242.1 300.0,1237.9 302.0,1237.4 304.0,1234.1 306.0,1232.1 308.0,1229.1 310.0,1227.6 312.0,1226.2 314.0,1222.4 316.0,1221.9 318.0,1219.7 320.0,1218.2 322.0,1213.6 324.0,1213.7 326.0,1208.6 328.0,1207.7 330.0,1206.3 332.0,1202.2 334.0,1201.2 336.0,1198.0 338.0,1196.5 340.0,1195.0 342.0,1190.7 344.0,1188.6 346.0,1183.8 348.0,1182.6 350.0,1181.8 352.0,1179.9 354.0,1175.2 356.0,1173.8 358.0,1171.2 360.0,1166.9 362.0,1165.7 364.0,1164.6 366.0,1160.7 368.0,1158.1 370.0,1157.1 372.0,1154.0 374.0,1150.4 376.0,1148.2 378.0,1146.6 380.0,1144.0 382.0,1139.5 384.0,1137.8 386.0,1136.9 388.0,1132.8 390.0,1130.9 392.0,1128.3 394.0,1123.5 396.0,1122.4 398.0,1120.9 400.0,1116.9 402.0,1117.2 404.0,1113.5 406.0,1111.8 408.0,1109.4 410.0,1104.7 412.0,1100.8 414.0,1102.1 416.0,1098.7 418.0,1095.2 420.0,1093.8 422.0,1092.7 424.0,1089.1 426.0,1088.0 428.0,1084.1 430.0,1080.3 432.0,1077.3 434.0,1077.4 436.0,1074.2 438.0,1072.0 440.0,1069.8 442.0,1069.2 444.0,1067.9 446.0,1063.6 448.0,1060.7 450.0,1061.4 452.0,1059.6 454.0,1056.6 456.0,1053.4 458.0,1052.3 460.0,1048.3 462.0,1047.0 464.0,1043.8 466.0,1042.8 468.0,1039.0 470.0,1036.4 472.0,1036.0 474.0,1033.0 476.0,1030.8 478.0,1030.8 480.0,1027.7 482.0,1025.9 484.0,1022.7 486.0,1022.7 488.0,1021.0 490.0,1017.5 492.0,1017.1 494.0,1013.6 496.0,1011.8 498.0,1010.3 500.0,1009.2 502.0,1007.5 504.0,1005.5 506.0,1004.8 508.0,1003.8 510.0,1000.2 512.0,997.6 514.0,995.2 516.0,994.1 518.0,990.8 520.0,989.6 522.0,987.4 524.0,987.4 526.0,985.9 528.0,984.6 530.0,982.3 532.0,981.0 534.0,976.4 536.0,976.2 538.0,973.1 540.0,972.4 542.0,971.8 544.0,969.9 546.0,966.8 548.0,967.4 550.0,964.7 552.0,962.7 554.0,961.4 556.0,959.7 558.0,958.8 560.0,954.6 562.0,955.6 564.0,954.3 566.0,949.9 568.0,951.1 570.0,950.6 572.0,946.8 574.0,946.0 576.0,943.9 578.0,943.0 580.0,940.6 582.0,940.8 584.0,937.5 586.0,937.0 588.0,934.6 590.0,934.9 592.0,929.8 594.0,930.5 596.0,928.0 598.0,924.5 600.0,923.6 602.0,923.4 604.0,921.5 606.0,919.5 608.0,919.9 610.0,920.4 612.0,918.9 614.0,916.1 616.0,913.8 618.0,912.6 620.0,910.2 622.0,907.9 624.0,909.0 626.0,907.2 628.0,906.4 630.0,904.4 632.0,904.5 634.0,903.6 636.0,900.3 638.0,899.4 640.0,897.8 642.0,897.6 644.0,896.2 646.0,894.5 648.0,895.6 650.0,891.4 652.0,889.0 654.0,887.8 656.0,888.2 658.0,887.3 660.0,885.2 662.0,885.6 664.0,885.1 666.0,881.8 668.0,881.4 670.0,882.2 672.0,879.9 674.0,876.2 676.0,875.9 678.0,874.4 680.0,874.6 682.0,872.3 684.0,870.2 686.0,869.1 688.0,868.0 690.0,867.5 692.0,867.2 694.0,865.8 696.0,865.5 698.0,862.4 700.0,861.3 702.0,861.0 704.0,859.4 706.0,859.8 708.0,858.0 710.0,857.2 712.0,857.5 714.0,854.4 716.0,853.8 718.0,851.0 720.0,849.1 722.0,849.3 724.0,848.3 726.0,847.2 728.0,846.9 730.0,847.0 732.0,845.5 734.0,843.0 736.0,845.0 738.0,840.4 740.0,840.8 742.0,839.1 744.0,838.6 746.0,837.6 748.0,837.4 750.0,834.5 752.0,834.7 754.0,832.6 756.0,831.6 758.0,829.7 760.0,830.0 762.0,831.3 764.0,830.5 766.0,826.4 768.0,826.9 770.0,822.7 772.0,823.7 774.0,824.2 776.0,822.3 778.0,820.9 780.0,821.0 782.0,818.3 784.0,816.8 786.0,818.0 788.0,817.1 790.0,815.4 792.0,814.8 794.0,814.8 796.0,814.8 798.0,813.9 800.0,811.9 802.0,811.5 804.0,810.2 806.0,810.1 808.0,810.4 810.0,806.3 812.0,805.2 814.0,804.0 816.0,805.2 818.0,804.4 820.0,803.7 822.0,801.1 824.0,799.9 826.0,800.1 828.0,799.4 830.0,800.6 832.0,797.3 834.0,797.2 836.0,795.6 838.0,792.2 840.0,793.8 842.0,794.9 844.0,793.6 846.0,791.7 848.0,790.8 850.0,787.7 852.0,788.9 854.0,789.2 856.0,787.4 858.0,785.9 860.0,784.3 862.0,787.7 864.0,783.8 866.0,781.8 868.0,779.9 870.0,781.9 872.0,781.6 874.0,779.4 876.0,778.0 878.0,780.1 880.0,778.7 882.0,778.2 884.0,776.3 886.0,773.8 888.0,774.5 890.0,773.3 892.0,774.2 894.0,772.0 896.0,771.6 898.0,771.8 900.0,769.7 902.0,768.8 904.0,769.2 906.0,768.1 908.0,767.7 910.0,766.7 912.0,765.2 914.0,764.6 916.0,764.5 918.0,763.1 920.0,762.8 922.0,761.5 924.0,759.9 926.0,760.2 928.0,762.4 930.0,761.0 932.0,758.9 934.0,759.4 936.0,758.8 938.0,756.5 940.0,754.6 942.0,753.9 944.0,753.3 946.0,755.1 948.0,755.9 950.0,755.2 952.0,752.9 954.0,751.1 956.0,751.8 958.0,752.0 960.0,748.7 962.0,749.4 964.0,748.4 966.0,748.1 968.0,747.4 970.0,747.1 972.0,746.7 974.0,743.8 976.0,744.5 978.0,744.5 980.0,743.9 982.0,743.1 984.0,742.0 986.0,741.5 988.0,742.5 990.0,741.1 992.0,740.8 994.0,739.2 996.0,737.5 998.0,736.7 1000.0,736.7 1002.0,734.8 1004.0,734.5 1006.0,733.6 1008.0,734.3 1010.0,733.0 1012.0,732.2 1014.0,731.6 1016.0,732.3 1018.0,733.3 1020.0,733.8 1022.0,730.8 1024.0,730.7 1026.0,730.7 1028.0,727.9 1030.0,727.9 1032.0,727.3 1034.0,727.4 1036.0,725.9 1038.0,724.6 1040.0,722.6 1042.0,724.1 1044.0,722.1 1046.0,722.5 1048.0,721.8 1050.0,721.9 1052.0,721.3 1054.0,719.7 1056.0,718.4 1058.0,719.0 1060.0,717.5 1062.0,718.9 1064.0,718.5 1066.0,716.3 1068.0,715.5 1070.0,715.4 1072.0,716.0 1074.0,715.1 1076.0,713.8 1078.0,715.0 1080.0,714.5 1082.0,715.9 1084.0,711.6 1086.0,712.3 1088.0,710.3 1090.0,711.9 1092.0,710.0 1094.0,708.5 1096.0,707.8 1098.0,708.2 1100.0,704.5 1102.0,706.4 1104.0,707.0 1106.0,705.1 1108.0,706.2 1110.0,706.5 1112.0,703.8 1114.0,703.9 1116.0,704.3 1118.0,706.7 1120.0,705.5 1122.0,704.2 1124.0,702.2 1126.0,700.8 1128.0,700.4 1130.0,700.7 1132.0,701.1 1134.0,699.7 1136.0,699.1 1138.0,700.6 1140.0,698.0 1142.0,699.2 1144.0,696.7 1146.0,697.0 1148.0,695.4 1150.0,696.7 1152.0,698.2 1154.0,694.4 1156.0,692.1 1158.0,695.0 1160.0,692.5 1162.0,692.5 1164.0,692.3 1166.0,689.0 1168.0,691.6 1170.0,692.2 1172.0,690.3 1174.0,689.8 1176.0,688.8 1178.0,688.9 1180.0,688.8 1182.0,687.4 1184.0,687.9 1186.0,688.4 1188.0,690.1 1190.0,685.1 1192.0,687.1 1194.0,686.1 1196.0,685.2 1198.0,684.9 1200.0,686.6 1202.0,686.8 1204.0,685.0 1206.0,683.0 1208.0,683.0 1210.0,684.3 1212.0,681.4 1214.0,681.9 1216.0,682.4 1218.0,679.7 1220.0,680.4 1222.0,680.3 1224.0,678.5 1226.0,678.1 1228.0,676.4 1230.0,677.8 1232.0,676.0 1234.0,676.6 1236.0,676.8 1238.0,676.1 1240.0,677.0 1242.0,675.5 1244.0,674.9 1246.0,675.0 1248.0,673.6 1250.0,672.0 1252.0,674.3 1254.0,673.8 1256.0,672.2 1258.0,671.7 1260.0,673.1 1262.0,670.2 1264.0,669.9 1266.0,671.9 1268.0,674.0 1270.0,669.2 1272.0,667.1 1274.0,668.9 1276.0,667.7 1278.0,666.2 1280.0,667.5 1282.0,667.5 1284.0,668.4 1286.0,667.4 1288.0,668.4 1290.0,667.0 1292.0,665.8 1294.0,666.0 1296.0,666.6 1298.0,665.1 1300.0,662.8 1302.0,665.7 1304.0,665.5 1306.0,664.8 1308.0,663.2 1310.0,663.2 1312.0,661.7 1314.0,661.9 1316.0,661.3 1318.0,661.9 1320.0,661.4 1322.0,660.8 1324.0,659.4 1326.0,658.9 1328.0,659.5 1330.0,659.2 1332.0,658.4 1334.0,658.5 1336.0,658.1 1338.0,659.5 1340.0,656.4 1342.0,659.9 1344.0,655.7 1346.0,655.0 1348.0,656.4 1350.0,654.4 1352.0,654.7 1354.0,653.8 1356.0,652.7 1358.0,652.9 1360.0,653.4 1362.0,653.4 1364.0,653.3 1366.0,652.3 1368.0,651.5 1370.0,653.7 1372.0,650.4 1374.0,651.8 1376.0,652.6 1378.0,653.2 1380.0,652.5 1382.0,651.8 1384.0,651.2 1386.0,649.4 1388.0,647.0 1390.0,649.3 1392.0,649.2 1394.0,650.1 1396.0,648.0 1398.0,648.5 1400.0,649.1 1402.0,645.5 1404.0,646.1 1406.0,646.8 1408.0,645.7 1410.0,645.9 1412.0,644.1 1414.0,645.4 1416.0,646.0 1418.0,646.1 1420.0,644.3 1422.0,642.4 1424.0,642.2 1426.0,643.4 1428.0,641.3 1430.0,643.5 1432.0,642.7 1434.0,641.2 1436.0,640.2 1438.0,641.3 1440.0,642.2 1442.0,640.8 1444.0,640.4 1446.0,638.0 1448.0,640.5 1450.0,639.7 1452.0,640.3 1454.0,640.2 1456.0,639.1 1458.0,638.5 1460.0,637.6 1462.0,639.1 1464.0,637.9 1466.0,639.5 1468.0,639.6 1470.0,639.3 1472.0,638.5 1474.0,637.0 1476.0,638.0 1478.0,634.4 1480.0,635.8 1482.0,634.0 1484.0,634.4 1486.0,633.9 1488.0,634.9 1490.0,634.9 1492.0,632.8 1494.0,634.8 1496.0,633.3 1498.0,633.7 1500.0,632.2 1502.0,633.4 1504.0,632.3 1506.0,633.0 1508.0,630.7 1510.0,631.9 1512.0,630.9 1514.0,631.7 1516.0,632.9 1518.0,631.4 1520.0,630.8 1522.0,630.0 1524.0,630.3 1526.0,629.3 1528.0,631.1 1530.0,628.4 1532.0,627.6 1534.0,629.4 1536.0,629.6 1538.0,628.4 1540.0,628.6 1542.0,628.7 1544.0,627.8 1546.0,628.0 1548.0,625.9 1550.0,628.5 1552.0,628.0 1554.0,626.9 1556.0,627.5 1558.0,624.4 1560.0,626.7 1562.0,625.5 1564.0,625.0 1566.0,626.3 1568.0,623.4 1570.0,624.9 1572.0,623.5 1574.0,623.1 1576.0,623.1 1578.0,625.0 1580.0,626.6 1582.0,624.4 1584.0,622.6 1586.0,625.7 1588.0,623.2 1590.0,621.6 1592.0,621.9 1594.0,622.3 1596.0,624.1 1598.0,620.4 1600.0,619.9 1602.0,621.7 1604.0,619.6 1606.0,619.9 1608.0,618.8 1610.0,618.3 1612.0,618.5 1614.0,615.7 1616.0,617.5 1618.0,618.3 1620.0,620.1 1622.0,619.4 1624.0,617.8 1626.0,618.3 1628.0,618.5 1630.0,620.0 1632.0,617.5 1634.0,615.6 1636.0,616.1 1638.0,616.9 1640.0,617.6 1642.0,616.4 1644.0,615.4 1646.0,615.2 1648.0,615.8 1650.0,615.6 1652.0,615.8 1654.0,615.5 1656.0,615.2 1658.0,614.4 1660.0,613.6 1662.0,613.7 1664.0,614.0 1666.0,612.5 1668.0,612.4 1670.0,612.3 1672.0,613.1 1674.0,614.2 1676.0,613.6 1678.0,613.4 1680.0,612.2 1682.0,610.1 1684.0,610.8 1686.0,612.2 1688.0,610.4 1690.0,609.5 1692.0,610.1 1694.0,610.9 1696.0,611.9 1698.0,611.1 1700.0,609.2 1702.0,608.8 1704.0,609.2 1706.0,608.9 1708.0,607.8 1710.0,607.3 1712.0,605.8 1714.0,607.3 1716.0,606.7 1718.0,608.2 1720.0,607.4 1722.0,606.2 1724.0,606.9 1726.0,608.5 1728.0,609.4 1730.0,604.6 1732.0,605.3 1734.0,605.5 1736.0,604.9 1738.0,606.2 1740.0,607.7 1742.0,606.1 1744.0,606.6 1746.0,602.0 1748.0,603.7 1750.0,603.0 1752.0,604.0 1754.0,605.8 1756.0,604.3 1758.0,604.3 1760.0,602.5 1762.0,603.6 1764.0,602.7 1766.0,600.6 1768.0,600.2 1770.0,600.4 1772.0,601.8 1774.0,601.3 1776.0,603.0 1778.0,598.8 1780.0,600.9 1782.0,600.1 1784.0,600.8 1786.0,600.9 1788.0,599.5 1790.0,600.9 1792.0,599.3 1794.0,599.0 1796.0,598.6 1798.0,597.8 1800.0,599.3 1802.0,598.0 1804.0,597.9 1806.0,599.7 1808.0,599.1 1810.0,598.2 1812.0,597.0 1814.0,599.0 1816.0,598.0 1818.0,595.5 1820.0,595.4 1822.0,596.8 1824.0,596.5 1826.0,597.0 1828.0,598.5 1830.0,596.5 1832.0,595.5 1834.0,593.9 1836.0,594.8 1838.0,593.7 1840.0,594.1 1842.0,593.2 1844.0,593.2 1846.0,593.6 1848.0,590.4 1850.0,594.1 1852.0,593.0 1854.0,592.6 1856.0,592.3 1858.0,593.1 1860.0,592.1 1862.0,593.9 1864.0,592.1" fill="none" stroke="#008000" stroke-width="11.5" stroke-linejoin="round" stroke-linecap="butt"/>
</g>
<g stroke="#000" fill="none">
<rect x="244.0" y="50.5" width="1626.0" height="1249.5" stroke-width="8.5"/>
<line x1="216" y1="1300.0" x2="244.0" y2="1300.0" stroke-width="7"/>
<line x1="216" y1="1091.8" x2="244.0" y2="1091.8" stroke-width="7"/>
<line x1="216" y1="883.5" x2="244.0" y2="883.5" stroke-width="7"/>
<line x1="216" y1="675.2" x2="244.0" y2="675.2" stroke-width="7"/>
<line x1="216" y1="467.0" x2="244.0" y2="467.0" stroke-width="7"/>
<line x1="216" y1="258.8" x2="244.0" y2="258.8" stroke-width="7"/>
<line x1="216" y1="50.5" x2="244.0" y2="50.5" stroke-width="7"/>
<line x1="231" y1="1195.9" x2="244.0" y2="1195.9" stroke-width="7"/>
<line x1="231" y1="987.6" x2="244.0" y2="987.6" stroke-width="7"/>
<line x1="231" y1="779.4" x2="244.0" y2="779.4" stroke-width="7"/>
<line x1="231" y1="571.1" x2="244.0" y2="571.1" stroke-width="7"/>
<line x1="231" y1="362.9" x2="244.0" y2="362.9" stroke-width="7"/>
<line x1="231" y1="154.6" x2="244.0" y2="154.6" stroke-width="7"/>
<line x1="515.0" y1="1300.0" x2="515.0" y2="1273" stroke-width="7"/>
<line x1="786.0" y1="1300.0" x2="786.0" y2="1273" stroke-width="7"/>
<line x1="1057.0" y1="1300.0" x2="1057.0" y2="1273" stroke-width="7"/>
<line x1="1328.0" y1="1300.0" x2="1328.0" y2="1273" stroke-width="7"/>
<line x1="1599.0" y1="1300.0" x2="1599.0" y2="1273" stroke-width="7"/>
<line x1="379.5" y1="1300.0" x2="379.5" y2="1287" stroke-width="7"/>
<line x1="650.5" y1="1300.0" x2="650.5" y2="1287" stroke-width="7"/>
<line x1="921.5" y1="1300.0" x2="921.5" y2="1287" stroke-width="7"/>
<line x1="1192.5" y1="1300.0" x2="1192.5" y2="1287" stroke-width="7"/>
<line x1="1463.5" y1="1300.0" x2="1463.5" y2="1287" stroke-width="7"/>
<line x1="1734.5" y1="1300.0" x2="1734.5" y2="1287" stroke-width="7"/>
</g>
<g font-family="Liberation Serif, Times New Roman, serif" font-size="73" fill="#000">
<text x="198.5" y="1322.5" text-anchor="end">0</text>
<text x="198.5" y="1114.2" text-anchor="end">5</text>
<text x="198.5" y="906.0" text-anchor="end">10</text>
<text x="198.5" y="697.8" text-anchor="end">15</text>
<text x="198.5" y="489.5" text-anchor="end">20</text>
<text x="198.5" y="281.2" text-anchor="end">25</text>
<text x="198.5" y="73.0" text-anchor="end">30</text>
<text x="248.0" y="1393.3" text-anchor="middle">0</text>
<text x="519.0" y="1393.3" text-anchor="middle">30</text>
<text x="790.0" y="1393.3" text-anchor="middle">60</text>
<text x="1061.0" y="1393.3" text-anchor="middle">90</text>
<text x="1332.0" y="1393.3" text-anchor="middle">120</text>
<text x="1603.0" y="1393.3" text-anchor="middle">150</text>
<text x="1874.0" y="1393.3" text-anchor="middle">180</text>
</g>
<text font-family="Liberation Serif, Times New Roman, serif" font-size="72" x="905" y="1471.6" textLength="307" lengthAdjust="spacingAndGlyphs">Time(min)</text>
<text font-family="Liberation Serif, Times New Roman, serif" font-size="72" transform="translate(75,775) rotate(-90)" x="0" y="0" textLength="201" lengthAdjust="spacingAndGlyphs">TG(%)</text>
<line x1="312" y1="134.4" x2="427" y2="134.4" stroke="#000" stroke-width="9.5"/>
<text font-family="Liberation Serif, Times New Roman, serif" font-size="74" x="439" y="159.7" textLength="218" lengthAdjust="spacingAndGlyphs">1300°C</text>
<line x1="312" y1="238.4" x2="427" y2="238.4" stroke="#ff0000" stroke-width="9.5"/>
<text font-family="Liberation Serif, Times New Roman, serif" font-size="74" x="439" y="263.2" textLength="218" lengthAdjust="spacingAndGlyphs">1350°C</text>
<line x1="312" y1="345.0" x2="427" y2="345.0" stroke="#0000ff" stroke-width="9.5"/>
<text font-family="Liberation Serif, Times New Roman, serif" font-size="74" x="439" y="369.7" textLength="218" lengthAdjust="spacingAndGlyphs">1400°C</text>
<line x1="312" y1="450.0" x2="427" y2="450.0" stroke="#ff00ff" stroke-width="9.5"/>
<text font-family="Liberation Serif, Times New Roman, serif" font-size="74" x="439" y="475.6" textLength="218" lengthAdjust="spacingAndGlyphs">1450°C</text>
<line x1="312" y1="556.5" x2="427" y2="556.5" stroke="#008000" stroke-width="9.5"/>
<text font-family="Liberation Serif, Times New Roman, serif" font-size="74" x="439" y="581.0" textLength="218" lengthAdjust="spacingAndGlyphs">1500°C</text>
<line x1="1415.7" y1="909.5" x2="1616" y2="909.5" stroke="#222" stroke-width="3.8"/>
<polygon points="1614,894.3 1646,909.5 1614,924.7" fill="#000"/>
<line x1="1415.7" y1="1150" x2="1616" y2="1150" stroke="#222" stroke-width="3.8"/>
<polygon points="1614,1134.8 1646,1150 1614,1165.2" fill="#000"/>
<text font-family="Liberation Serif, Times New Roman, serif" font-size="69" x="1420.5" y="891.1" textLength="208" lengthAdjust="spacingAndGlyphs">1300°C</text>
<text font-family="Liberation Serif, Times New Roman, serif" font-size="67" x="1426.5" y="1121.8" textLength="210" lengthAdjust="spacingAndGlyphs">1500°C</text>
<text font-family="Liberation Serif, Times New Roman, serif" font-size="69" x="1428" y="994.5">3h / N<tspan font-size="46" dy="14">2</tspan></text>
<text font-family="Liberation Serif, Times New Roman, serif" font-size="69" x="1428" y="1225.1">3h / N<tspan font-size="46" dy="14">2</tspan></text>
</svg></body></html>
